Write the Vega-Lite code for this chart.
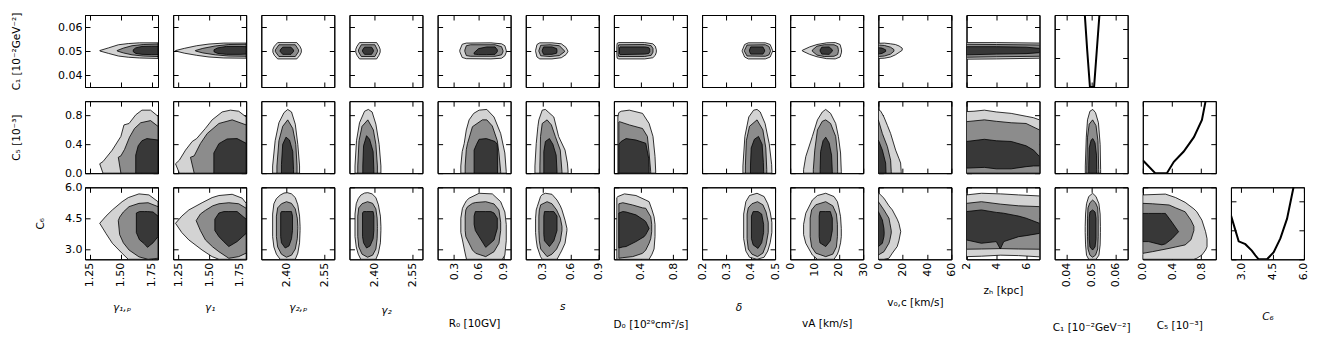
{
"$schema":"https://vega.github.io/schema/vega-lite/v6.json",
"background":"white",
"padding":{"left":10,"top":11,"right":5,"bottom":5},
"datasets":{"c":[
{"p":"a1","l":1,"x":1.33,"lo":0.05,"hi":0.0502},{"p":"a1","l":1,"x":1.4,"lo":0.049,"hi":0.0513},{"p":"a1","l":1,"x":1.48,"lo":0.0479,"hi":0.0526},{"p":"a1","l":1,"x":1.56,"lo":0.0474,"hi":0.0531},{"p":"a1","l":1,"x":1.65,"lo":0.0471,"hi":0.0534},{"p":"a1","l":1,"x":1.8,"lo":0.0469,"hi":0.0534},
{"p":"a1","l":2,"x":1.47,"lo":0.05,"hi":0.0502},{"p":"a1","l":2,"x":1.52,"lo":0.0492,"hi":0.0512},{"p":"a1","l":2,"x":1.59,"lo":0.0484,"hi":0.0522},{"p":"a1","l":2,"x":1.68,"lo":0.0479,"hi":0.0527},{"p":"a1","l":2,"x":1.8,"lo":0.0477,"hi":0.0529},
{"p":"a1","l":3,"x":1.6,"lo":0.0497,"hi":0.0505},{"p":"a1","l":3,"x":1.62,"lo":0.049,"hi":0.0513},{"p":"a1","l":3,"x":1.67,"lo":0.0486,"hi":0.0519},{"p":"a1","l":3,"x":1.75,"lo":0.0485,"hi":0.052},{"p":"a1","l":3,"x":1.8,"lo":0.0485,"hi":0.052},
{"p":"a2","l":1,"x":1.23,"lo":0.05,"hi":0.0502},{"p":"a2","l":1,"x":1.3,"lo":0.0491,"hi":0.0511},{"p":"a2","l":1,"x":1.4,"lo":0.0482,"hi":0.0522},{"p":"a2","l":1,"x":1.5,"lo":0.0475,"hi":0.0529},{"p":"a2","l":1,"x":1.62,"lo":0.0471,"hi":0.0533},{"p":"a2","l":1,"x":1.8,"lo":0.047,"hi":0.0533},
{"p":"a2","l":2,"x":1.39,"lo":0.05,"hi":0.0502},{"p":"a2","l":2,"x":1.45,"lo":0.0492,"hi":0.0511},{"p":"a2","l":2,"x":1.55,"lo":0.0484,"hi":0.0521},{"p":"a2","l":2,"x":1.66,"lo":0.0479,"hi":0.0527},{"p":"a2","l":2,"x":1.8,"lo":0.0478,"hi":0.0528},
{"p":"a2","l":3,"x":1.54,"lo":0.0497,"hi":0.0505},{"p":"a2","l":3,"x":1.57,"lo":0.049,"hi":0.0513},{"p":"a2","l":3,"x":1.64,"lo":0.0486,"hi":0.0519},{"p":"a2","l":3,"x":1.75,"lo":0.0486,"hi":0.0519},{"p":"a2","l":3,"x":1.8,"lo":0.0487,"hi":0.0518},
{"p":"a3","l":1,"x":2.346,"lo":0.0495,"hi":0.0507},{"p":"a3","l":1,"x":2.352,"lo":0.0482,"hi":0.052},{"p":"a3","l":1,"x":2.365,"lo":0.0467,"hi":0.0535},{"p":"a3","l":1,"x":2.441,"lo":0.0467,"hi":0.0535},{"p":"a3","l":1,"x":2.453,"lo":0.0482,"hi":0.052},{"p":"a3","l":1,"x":2.459,"lo":0.0495,"hi":0.0507},
{"p":"a3","l":2,"x":2.356,"lo":0.0497,"hi":0.0505},{"p":"a3","l":2,"x":2.37,"lo":0.0477,"hi":0.0526},{"p":"a3","l":2,"x":2.435,"lo":0.0477,"hi":0.0526},{"p":"a3","l":2,"x":2.448,"lo":0.0497,"hi":0.0505},
{"p":"a3","l":3,"x":2.375,"lo":0.0498,"hi":0.0504},{"p":"a3","l":3,"x":2.385,"lo":0.0486,"hi":0.0516},{"p":"a3","l":3,"x":2.418,"lo":0.0486,"hi":0.0516},{"p":"a3","l":3,"x":2.428,"lo":0.0498,"hi":0.0504},
{"p":"a4","l":1,"x":2.325,"lo":0.0495,"hi":0.0507},{"p":"a4","l":1,"x":2.33,"lo":0.0482,"hi":0.052},{"p":"a4","l":1,"x":2.34,"lo":0.0467,"hi":0.0535},{"p":"a4","l":1,"x":2.408,"lo":0.0467,"hi":0.0535},{"p":"a4","l":1,"x":2.417,"lo":0.0482,"hi":0.052},{"p":"a4","l":1,"x":2.422,"lo":0.0495,"hi":0.0507},
{"p":"a4","l":2,"x":2.336,"lo":0.0497,"hi":0.0505},{"p":"a4","l":2,"x":2.347,"lo":0.0477,"hi":0.0526},{"p":"a4","l":2,"x":2.401,"lo":0.0477,"hi":0.0526},{"p":"a4","l":2,"x":2.411,"lo":0.0497,"hi":0.0505},
{"p":"a4","l":3,"x":2.352,"lo":0.0498,"hi":0.0504},{"p":"a4","l":3,"x":2.36,"lo":0.0486,"hi":0.0516},{"p":"a4","l":3,"x":2.388,"lo":0.0486,"hi":0.0516},{"p":"a4","l":3,"x":2.395,"lo":0.0498,"hi":0.0504},
{"p":"a5","l":1,"x":0.371,"lo":0.0497,"hi":0.0504},{"p":"a5","l":1,"x":0.4,"lo":0.0473,"hi":0.0528},{"p":"a5","l":1,"x":0.45,"lo":0.0468,"hi":0.0533},{"p":"a5","l":1,"x":0.75,"lo":0.0467,"hi":0.0534},{"p":"a5","l":1,"x":0.88,"lo":0.047,"hi":0.053},{"p":"a5","l":1,"x":0.92,"lo":0.048,"hi":0.0522},{"p":"a5","l":1,"x":0.937,"lo":0.0495,"hi":0.0502},
{"p":"a5","l":2,"x":0.432,"lo":0.0498,"hi":0.0504},{"p":"a5","l":2,"x":0.45,"lo":0.0481,"hi":0.0522},{"p":"a5","l":2,"x":0.5,"lo":0.0478,"hi":0.0526},{"p":"a5","l":2,"x":0.8,"lo":0.0478,"hi":0.0526},{"p":"a5","l":2,"x":0.88,"lo":0.0484,"hi":0.0518},{"p":"a5","l":2,"x":0.897,"lo":0.0496,"hi":0.0502},
{"p":"a5","l":3,"x":0.545,"lo":0.0487,"hi":0.0493},{"p":"a5","l":3,"x":0.6,"lo":0.0485,"hi":0.051},{"p":"a5","l":3,"x":0.7,"lo":0.0485,"hi":0.0517},{"p":"a5","l":3,"x":0.8,"lo":0.0486,"hi":0.0517},{"p":"a5","l":3,"x":0.828,"lo":0.0497,"hi":0.0505},
{"p":"a6","l":1,"x":0.225,"lo":0.0499,"hi":0.0502},{"p":"a6","l":1,"x":0.24,"lo":0.0475,"hi":0.0527},{"p":"a6","l":1,"x":0.27,"lo":0.0467,"hi":0.0534},{"p":"a6","l":1,"x":0.4,"lo":0.0467,"hi":0.0534},{"p":"a6","l":1,"x":0.5,"lo":0.0472,"hi":0.053},{"p":"a6","l":1,"x":0.55,"lo":0.0485,"hi":0.0515},{"p":"a6","l":1,"x":0.57,"lo":0.0497,"hi":0.05},
{"p":"a6","l":2,"x":0.26,"lo":0.0499,"hi":0.0502},{"p":"a6","l":2,"x":0.28,"lo":0.048,"hi":0.0524},{"p":"a6","l":2,"x":0.38,"lo":0.0477,"hi":0.0526},{"p":"a6","l":2,"x":0.48,"lo":0.0481,"hi":0.0522},{"p":"a6","l":2,"x":0.535,"lo":0.0497,"hi":0.05},
{"p":"a6","l":3,"x":0.296,"lo":0.0499,"hi":0.0503},{"p":"a6","l":3,"x":0.31,"lo":0.0486,"hi":0.0517},{"p":"a6","l":3,"x":0.4,"lo":0.0486,"hi":0.0517},{"p":"a6","l":3,"x":0.45,"lo":0.0491,"hi":0.051},{"p":"a6","l":3,"x":0.454,"lo":0.0499,"hi":0.0502},
{"p":"a7","l":1,"x":0.106,"lo":0.0485,"hi":0.0518},{"p":"a7","l":1,"x":0.11,"lo":0.047,"hi":0.0532},{"p":"a7","l":1,"x":0.13,"lo":0.0467,"hi":0.0535},{"p":"a7","l":1,"x":0.45,"lo":0.0467,"hi":0.0535},{"p":"a7","l":1,"x":0.55,"lo":0.0472,"hi":0.053},{"p":"a7","l":1,"x":0.58,"lo":0.0482,"hi":0.052},{"p":"a7","l":1,"x":0.593,"lo":0.0495,"hi":0.0505},
{"p":"a7","l":2,"x":0.123,"lo":0.0485,"hi":0.0518},{"p":"a7","l":2,"x":0.13,"lo":0.0477,"hi":0.0526},{"p":"a7","l":2,"x":0.45,"lo":0.0477,"hi":0.0527},{"p":"a7","l":2,"x":0.53,"lo":0.0482,"hi":0.0522},{"p":"a7","l":2,"x":0.552,"lo":0.0495,"hi":0.051},
{"p":"a7","l":3,"x":0.139,"lo":0.0488,"hi":0.0515},{"p":"a7","l":3,"x":0.145,"lo":0.0485,"hi":0.0517},{"p":"a7","l":3,"x":0.45,"lo":0.0487,"hi":0.0517},{"p":"a7","l":3,"x":0.5,"lo":0.049,"hi":0.0514},{"p":"a7","l":3,"x":0.512,"lo":0.0497,"hi":0.0508},
{"p":"a8","l":1,"x":0.365,"lo":0.0499,"hi":0.0502},{"p":"a8","l":1,"x":0.375,"lo":0.0475,"hi":0.0527},{"p":"a8","l":1,"x":0.39,"lo":0.0467,"hi":0.0534},{"p":"a8","l":1,"x":0.46,"lo":0.0467,"hi":0.0534},{"p":"a8","l":1,"x":0.48,"lo":0.0475,"hi":0.0527},{"p":"a8","l":1,"x":0.49,"lo":0.0499,"hi":0.0502},
{"p":"a8","l":2,"x":0.374,"lo":0.0499,"hi":0.0502},{"p":"a8","l":2,"x":0.385,"lo":0.0479,"hi":0.0525},{"p":"a8","l":2,"x":0.46,"lo":0.0478,"hi":0.0526},{"p":"a8","l":2,"x":0.475,"lo":0.0484,"hi":0.0519},{"p":"a8","l":2,"x":0.481,"lo":0.0499,"hi":0.0502},
{"p":"a8","l":3,"x":0.395,"lo":0.0498,"hi":0.0504},{"p":"a8","l":3,"x":0.4,"lo":0.0487,"hi":0.0517},{"p":"a8","l":3,"x":0.45,"lo":0.0487,"hi":0.0517},{"p":"a8","l":3,"x":0.457,"lo":0.0498,"hi":0.0504},
{"p":"a9","l":1,"x":5,"lo":0.05,"hi":0.0503},{"p":"a9","l":1,"x":8,"lo":0.0486,"hi":0.0517},{"p":"a9","l":1,"x":11,"lo":0.0476,"hi":0.0527},{"p":"a9","l":1,"x":15,"lo":0.0468,"hi":0.0534},{"p":"a9","l":1,"x":18.5,"lo":0.0467,"hi":0.0535},{"p":"a9","l":1,"x":20.5,"lo":0.0475,"hi":0.0527},{"p":"a9","l":1,"x":21.1,"lo":0.0495,"hi":0.0505},
{"p":"a9","l":2,"x":9.1,"lo":0.0499,"hi":0.0504},{"p":"a9","l":2,"x":11,"lo":0.0483,"hi":0.052},{"p":"a9","l":2,"x":14,"lo":0.0477,"hi":0.0526},{"p":"a9","l":2,"x":18,"lo":0.0478,"hi":0.0526},{"p":"a9","l":2,"x":19.5,"lo":0.0485,"hi":0.0519},{"p":"a9","l":2,"x":19.8,"lo":0.0498,"hi":0.0506},
{"p":"a9","l":3,"x":12.3,"lo":0.0499,"hi":0.0505},{"p":"a9","l":3,"x":13,"lo":0.0487,"hi":0.0516},{"p":"a9","l":3,"x":16,"lo":0.0486,"hi":0.0517},{"p":"a9","l":3,"x":17.3,"lo":0.0499,"hi":0.0505},
{"p":"a10","l":1,"x":0,"lo":0.0469,"hi":0.0532},{"p":"a10","l":1,"x":5,"lo":0.047,"hi":0.0533},{"p":"a10","l":1,"x":10,"lo":0.0475,"hi":0.053},{"p":"a10","l":1,"x":14,"lo":0.0484,"hi":0.0527},{"p":"a10","l":1,"x":17,"lo":0.0494,"hi":0.0521},{"p":"a10","l":1,"x":19.6,"lo":0.0503,"hi":0.0512},
{"p":"a10","l":2,"x":0,"lo":0.0477,"hi":0.0525},{"p":"a10","l":2,"x":5,"lo":0.0479,"hi":0.0523},{"p":"a10","l":2,"x":10,"lo":0.0487,"hi":0.0516},{"p":"a10","l":2,"x":12.8,"lo":0.0499,"hi":0.0506},
{"p":"a10","l":3,"x":0,"lo":0.0487,"hi":0.0514},{"p":"a10","l":3,"x":3,"lo":0.049,"hi":0.0512},{"p":"a10","l":3,"x":6,"lo":0.0498,"hi":0.0505},
{"p":"a11","l":1,"x":2,"lo":0.0466,"hi":0.0535},{"p":"a11","l":1,"x":4,"lo":0.0467,"hi":0.0535},{"p":"a11","l":1,"x":6.9,"lo":0.047,"hi":0.0533},
{"p":"a11","l":2,"x":2,"lo":0.0474,"hi":0.0528},{"p":"a11","l":2,"x":4,"lo":0.0476,"hi":0.0527},{"p":"a11","l":2,"x":6.9,"lo":0.0478,"hi":0.0525},
{"p":"a11","l":3,"x":2,"lo":0.0484,"hi":0.0518},{"p":"a11","l":3,"x":4,"lo":0.0487,"hi":0.0518},{"p":"a11","l":3,"x":6,"lo":0.0489,"hi":0.0516},{"p":"a11","l":3,"x":6.9,"lo":0.0493,"hi":0.0511},
{"p":"k1","x":0.0474,"y":1},{"p":"k1","x":0.0484,"y":0.5},{"p":"k1","x":0.0495,"y":0},{"p":"k1","x":0.0512,"y":0},{"p":"k1","x":0.0523,"y":0.5},{"p":"k1","x":0.0534,"y":1},
{"p":"b1","l":1,"x":1.329,"lo":0.13,"hi":0.13},{"p":"b1","l":1,"x":1.355,"lo":0,"hi":0.16},{"p":"b1","l":1,"x":1.43,"lo":0,"hi":0.32},{"p":"b1","l":1,"x":1.5,"lo":0,"hi":0.51},{"p":"b1","l":1,"x":1.525,"lo":0,"hi":0.67},{"p":"b1","l":1,"x":1.566,"lo":0,"hi":0.69},{"p":"b1","l":1,"x":1.62,"lo":0,"hi":0.81},{"p":"b1","l":1,"x":1.67,"lo":0,"hi":0.875},{"p":"b1","l":1,"x":1.74,"lo":0,"hi":0.875},{"p":"b1","l":1,"x":1.8,"lo":0,"hi":0.79},
{"p":"b1","l":2,"x":1.479,"lo":0.22,"hi":0.22},{"p":"b1","l":2,"x":1.5,"lo":0,"hi":0.24},{"p":"b1","l":2,"x":1.53,"lo":0,"hi":0.33},{"p":"b1","l":2,"x":1.57,"lo":0,"hi":0.5},{"p":"b1","l":2,"x":1.61,"lo":0,"hi":0.62},{"p":"b1","l":2,"x":1.66,"lo":0,"hi":0.7},{"p":"b1","l":2,"x":1.74,"lo":0,"hi":0.73},{"p":"b1","l":2,"x":1.8,"lo":0,"hi":0.65},
{"p":"b1","l":3,"x":1.62,"lo":0,"hi":0.25},{"p":"b1","l":3,"x":1.64,"lo":0,"hi":0.38},{"p":"b1","l":3,"x":1.67,"lo":0,"hi":0.45},{"p":"b1","l":3,"x":1.71,"lo":0,"hi":0.48},{"p":"b1","l":3,"x":1.8,"lo":0,"hi":0.46},
{"p":"b2","l":1,"x":1.229,"lo":0.13,"hi":0.13},{"p":"b2","l":1,"x":1.26,"lo":0,"hi":0.18},{"p":"b2","l":1,"x":1.31,"lo":0,"hi":0.32},{"p":"b2","l":1,"x":1.364,"lo":0,"hi":0.44},{"p":"b2","l":1,"x":1.4,"lo":0,"hi":0.48},{"p":"b2","l":1,"x":1.47,"lo":0,"hi":0.62},{"p":"b2","l":1,"x":1.525,"lo":0,"hi":0.74},{"p":"b2","l":1,"x":1.606,"lo":0,"hi":0.85},{"p":"b2","l":1,"x":1.673,"lo":0,"hi":0.875},{"p":"b2","l":1,"x":1.74,"lo":0,"hi":0.86},{"p":"b2","l":1,"x":1.8,"lo":0,"hi":0.78},
{"p":"b2","l":2,"x":1.35,"lo":0.22,"hi":0.22},{"p":"b2","l":2,"x":1.38,"lo":0,"hi":0.24},{"p":"b2","l":2,"x":1.43,"lo":0,"hi":0.41},{"p":"b2","l":2,"x":1.485,"lo":0,"hi":0.55},{"p":"b2","l":2,"x":1.58,"lo":0,"hi":0.69},{"p":"b2","l":2,"x":1.687,"lo":0,"hi":0.74},{"p":"b2","l":2,"x":1.8,"lo":0,"hi":0.67},
{"p":"b2","l":3,"x":1.539,"lo":0,"hi":0.28},{"p":"b2","l":3,"x":1.58,"lo":0,"hi":0.41},{"p":"b2","l":3,"x":1.646,"lo":0,"hi":0.475},{"p":"b2","l":3,"x":1.727,"lo":0,"hi":0.48},{"p":"b2","l":3,"x":1.8,"lo":0,"hi":0.415},
{"p":"b3","l":1,"x":2.345,"lo":0,"hi":0.1},{"p":"b3","l":1,"x":2.355,"lo":0,"hi":0.45},{"p":"b3","l":1,"x":2.37,"lo":0,"hi":0.7},{"p":"b3","l":1,"x":2.39,"lo":0,"hi":0.84},{"p":"b3","l":1,"x":2.405,"lo":0,"hi":0.885},{"p":"b3","l":1,"x":2.42,"lo":0,"hi":0.85},{"p":"b3","l":1,"x":2.435,"lo":0,"hi":0.68},{"p":"b3","l":1,"x":2.445,"lo":0,"hi":0.4},{"p":"b3","l":1,"x":2.452,"lo":0,"hi":0.1},
{"p":"b3","l":2,"x":2.362,"lo":0,"hi":0.1},{"p":"b3","l":2,"x":2.37,"lo":0,"hi":0.45},{"p":"b3","l":2,"x":2.385,"lo":0,"hi":0.65},{"p":"b3","l":2,"x":2.405,"lo":0,"hi":0.74},{"p":"b3","l":2,"x":2.425,"lo":0,"hi":0.62},{"p":"b3","l":2,"x":2.437,"lo":0,"hi":0.4},{"p":"b3","l":2,"x":2.442,"lo":0,"hi":0.1},
{"p":"b3","l":3,"x":2.38,"lo":0,"hi":0.12},{"p":"b3","l":3,"x":2.385,"lo":0,"hi":0.4},{"p":"b3","l":3,"x":2.398,"lo":0,"hi":0.5},{"p":"b3","l":3,"x":2.412,"lo":0,"hi":0.46},{"p":"b3","l":3,"x":2.425,"lo":0,"hi":0.3},{"p":"b3","l":3,"x":2.428,"lo":0,"hi":0.05},
{"p":"b4","l":1,"x":2.322,"lo":0,"hi":0.1},{"p":"b4","l":1,"x":2.328,"lo":0,"hi":0.45},{"p":"b4","l":1,"x":2.34,"lo":0,"hi":0.7},{"p":"b4","l":1,"x":2.36,"lo":0,"hi":0.86},{"p":"b4","l":1,"x":2.375,"lo":0,"hi":0.885},{"p":"b4","l":1,"x":2.39,"lo":0,"hi":0.85},{"p":"b4","l":1,"x":2.405,"lo":0,"hi":0.68},{"p":"b4","l":1,"x":2.418,"lo":0,"hi":0.4},{"p":"b4","l":1,"x":2.425,"lo":0,"hi":0.1},
{"p":"b4","l":2,"x":2.333,"lo":0,"hi":0.1},{"p":"b4","l":2,"x":2.338,"lo":0,"hi":0.45},{"p":"b4","l":2,"x":2.35,"lo":0,"hi":0.65},{"p":"b4","l":2,"x":2.373,"lo":0,"hi":0.74},{"p":"b4","l":2,"x":2.395,"lo":0,"hi":0.6},{"p":"b4","l":2,"x":2.405,"lo":0,"hi":0.4},{"p":"b4","l":2,"x":2.411,"lo":0,"hi":0.1},
{"p":"b4","l":3,"x":2.353,"lo":0,"hi":0.1},{"p":"b4","l":3,"x":2.356,"lo":0,"hi":0.38},{"p":"b4","l":3,"x":2.368,"lo":0,"hi":0.52},{"p":"b4","l":3,"x":2.38,"lo":0,"hi":0.47},{"p":"b4","l":3,"x":2.394,"lo":0,"hi":0.3},{"p":"b4","l":3,"x":2.397,"lo":0,"hi":0.05},
{"p":"b5","l":1,"x":0.383,"lo":0,"hi":0.1},{"p":"b5","l":1,"x":0.4,"lo":0,"hi":0.3},{"p":"b5","l":1,"x":0.424,"lo":0,"hi":0.41},{"p":"b5","l":1,"x":0.45,"lo":0,"hi":0.6},{"p":"b5","l":1,"x":0.484,"lo":0,"hi":0.74},{"p":"b5","l":1,"x":0.54,"lo":0,"hi":0.83},{"p":"b5","l":1,"x":0.606,"lo":0,"hi":0.875},{"p":"b5","l":1,"x":0.7,"lo":0,"hi":0.885},{"p":"b5","l":1,"x":0.788,"lo":0,"hi":0.78},{"p":"b5","l":1,"x":0.869,"lo":0,"hi":0.55},{"p":"b5","l":1,"x":0.92,"lo":0,"hi":0.28},{"p":"b5","l":1,"x":0.937,"lo":0,"hi":0.02},
{"p":"b5","l":2,"x":0.436,"lo":0,"hi":0.1},{"p":"b5","l":2,"x":0.45,"lo":0,"hi":0.33},{"p":"b5","l":2,"x":0.464,"lo":0,"hi":0.41},{"p":"b5","l":2,"x":0.525,"lo":0,"hi":0.645},{"p":"b5","l":2,"x":0.646,"lo":0,"hi":0.74},{"p":"b5","l":2,"x":0.7,"lo":0,"hi":0.74},{"p":"b5","l":2,"x":0.767,"lo":0,"hi":0.655},{"p":"b5","l":2,"x":0.828,"lo":0,"hi":0.45},{"p":"b5","l":2,"x":0.848,"lo":0,"hi":0.28},{"p":"b5","l":2,"x":0.869,"lo":0,"hi":0.02},
{"p":"b5","l":3,"x":0.545,"lo":0,"hi":0.32},{"p":"b5","l":3,"x":0.575,"lo":0,"hi":0.4},{"p":"b5","l":3,"x":0.606,"lo":0,"hi":0.47},{"p":"b5","l":3,"x":0.695,"lo":0,"hi":0.48},{"p":"b5","l":3,"x":0.8,"lo":0,"hi":0.44},{"p":"b5","l":3,"x":0.828,"lo":0,"hi":0.4},{"p":"b5","l":3,"x":0.83,"lo":0,"hi":0.1},
{"p":"b6","l":1,"x":0.218,"lo":0,"hi":0.1},{"p":"b6","l":1,"x":0.232,"lo":0,"hi":0.41},{"p":"b6","l":1,"x":0.25,"lo":0,"hi":0.65},{"p":"b6","l":1,"x":0.26,"lo":0,"hi":0.74},{"p":"b6","l":1,"x":0.296,"lo":0,"hi":0.875},{"p":"b6","l":1,"x":0.33,"lo":0,"hi":0.885},{"p":"b6","l":1,"x":0.36,"lo":0,"hi":0.85},{"p":"b6","l":1,"x":0.42,"lo":0,"hi":0.78},{"p":"b6","l":1,"x":0.471,"lo":0,"hi":0.51},{"p":"b6","l":1,"x":0.54,"lo":0,"hi":0.32},{"p":"b6","l":1,"x":0.565,"lo":0,"hi":0.14},{"p":"b6","l":1,"x":0.572,"lo":0,"hi":0.03},
{"p":"b6","l":2,"x":0.271,"lo":0,"hi":0.1},{"p":"b6","l":2,"x":0.278,"lo":0,"hi":0.51},{"p":"b6","l":2,"x":0.296,"lo":0,"hi":0.69},{"p":"b6","l":2,"x":0.348,"lo":0,"hi":0.74},{"p":"b6","l":2,"x":0.394,"lo":0,"hi":0.67},{"p":"b6","l":2,"x":0.436,"lo":0,"hi":0.51},{"p":"b6","l":2,"x":0.489,"lo":0,"hi":0.32},{"p":"b6","l":2,"x":0.507,"lo":0,"hi":0.02},
{"p":"b6","l":3,"x":0.313,"lo":0,"hi":0.3},{"p":"b6","l":3,"x":0.33,"lo":0,"hi":0.44},{"p":"b6","l":3,"x":0.373,"lo":0,"hi":0.48},{"p":"b6","l":3,"x":0.41,"lo":0,"hi":0.4},{"p":"b6","l":3,"x":0.445,"lo":0,"hi":0.25},{"p":"b6","l":3,"x":0.454,"lo":0,"hi":0.03},
{"p":"b7","l":1,"x":0.119,"lo":0,"hi":0.78},{"p":"b7","l":1,"x":0.13,"lo":0,"hi":0.84},{"p":"b7","l":1,"x":0.16,"lo":0,"hi":0.86},{"p":"b7","l":1,"x":0.26,"lo":0,"hi":0.875},{"p":"b7","l":1,"x":0.423,"lo":0,"hi":0.83},{"p":"b7","l":1,"x":0.504,"lo":0,"hi":0.69},{"p":"b7","l":1,"x":0.552,"lo":0,"hi":0.51},{"p":"b7","l":1,"x":0.577,"lo":0,"hi":0.23},{"p":"b7","l":1,"x":0.585,"lo":0,"hi":0.03},
{"p":"b7","l":2,"x":0.131,"lo":0,"hi":0.71},{"p":"b7","l":2,"x":0.139,"lo":0,"hi":0.715},{"p":"b7","l":2,"x":0.26,"lo":0,"hi":0.67},{"p":"b7","l":2,"x":0.423,"lo":0,"hi":0.62},{"p":"b7","l":2,"x":0.483,"lo":0,"hi":0.51},{"p":"b7","l":2,"x":0.504,"lo":0,"hi":0.28},{"p":"b7","l":2,"x":0.524,"lo":0,"hi":0.02},
{"p":"b7","l":3,"x":0.131,"lo":0,"hi":0.4},{"p":"b7","l":3,"x":0.159,"lo":0,"hi":0.44},{"p":"b7","l":3,"x":0.22,"lo":0,"hi":0.48},{"p":"b7","l":3,"x":0.342,"lo":0,"hi":0.46},{"p":"b7","l":3,"x":0.463,"lo":0,"hi":0.415},{"p":"b7","l":3,"x":0.5,"lo":0,"hi":0.2},{"p":"b7","l":3,"x":0.504,"lo":0,"hi":0.08},
{"p":"b8","l":1,"x":0.368,"lo":0,"hi":0.1},{"p":"b8","l":1,"x":0.376,"lo":0,"hi":0.51},{"p":"b8","l":1,"x":0.392,"lo":0,"hi":0.78},{"p":"b8","l":1,"x":0.412,"lo":0,"hi":0.875},{"p":"b8","l":1,"x":0.426,"lo":0,"hi":0.885},{"p":"b8","l":1,"x":0.439,"lo":0,"hi":0.85},{"p":"b8","l":1,"x":0.459,"lo":0,"hi":0.69},{"p":"b8","l":1,"x":0.476,"lo":0,"hi":0.41},{"p":"b8","l":1,"x":0.486,"lo":0,"hi":0.12},{"p":"b8","l":1,"x":0.487,"lo":0,"hi":0.02},
{"p":"b8","l":2,"x":0.378,"lo":0,"hi":0.1},{"p":"b8","l":2,"x":0.382,"lo":0,"hi":0.45},{"p":"b8","l":2,"x":0.395,"lo":0,"hi":0.65},{"p":"b8","l":2,"x":0.426,"lo":0,"hi":0.74},{"p":"b8","l":2,"x":0.45,"lo":0,"hi":0.6},{"p":"b8","l":2,"x":0.462,"lo":0,"hi":0.35},{"p":"b8","l":2,"x":0.466,"lo":0,"hi":0.05},
{"p":"b8","l":3,"x":0.399,"lo":0,"hi":0.1},{"p":"b8","l":3,"x":0.402,"lo":0,"hi":0.35},{"p":"b8","l":3,"x":0.415,"lo":0,"hi":0.47},{"p":"b8","l":3,"x":0.432,"lo":0,"hi":0.51},{"p":"b8","l":3,"x":0.447,"lo":0,"hi":0.4},{"p":"b8","l":3,"x":0.452,"lo":0,"hi":0.15},{"p":"b8","l":3,"x":0.453,"lo":0,"hi":0.02},
{"p":"b9","l":1,"x":5.5,"lo":0,"hi":0.05},{"p":"b9","l":1,"x":6.4,"lo":0,"hi":0.23},{"p":"b9","l":1,"x":9.1,"lo":0,"hi":0.51},{"p":"b9","l":1,"x":11.2,"lo":0,"hi":0.74},{"p":"b9","l":1,"x":13.2,"lo":0,"hi":0.85},{"p":"b9","l":1,"x":14.6,"lo":0,"hi":0.885},{"p":"b9","l":1,"x":16.6,"lo":0,"hi":0.83},{"p":"b9","l":1,"x":18.7,"lo":0,"hi":0.69},{"p":"b9","l":1,"x":19.8,"lo":0,"hi":0.51},{"p":"b9","l":1,"x":20.7,"lo":0,"hi":0.28},{"p":"b9","l":1,"x":21,"lo":0,"hi":0.02},
{"p":"b9","l":2,"x":9.5,"lo":0,"hi":0.05},{"p":"b9","l":2,"x":10.1,"lo":0,"hi":0.32},{"p":"b9","l":2,"x":11.2,"lo":0,"hi":0.6},{"p":"b9","l":2,"x":13.2,"lo":0,"hi":0.72},{"p":"b9","l":2,"x":14.6,"lo":0,"hi":0.74},{"p":"b9","l":2,"x":16.6,"lo":0,"hi":0.69},{"p":"b9","l":2,"x":18.7,"lo":0,"hi":0.51},{"p":"b9","l":2,"x":19.4,"lo":0,"hi":0.28},{"p":"b9","l":2,"x":19.5,"lo":0,"hi":0.02},
{"p":"b9","l":3,"x":12.3,"lo":0,"hi":0.05},{"p":"b9","l":3,"x":12.5,"lo":0,"hi":0.3},{"p":"b9","l":3,"x":13.5,"lo":0,"hi":0.45},{"p":"b9","l":3,"x":14.6,"lo":0,"hi":0.5},{"p":"b9","l":3,"x":16,"lo":0,"hi":0.42},{"p":"b9","l":3,"x":17,"lo":0,"hi":0.25},{"p":"b9","l":3,"x":17.3,"lo":0,"hi":0.02},
{"p":"b10","l":1,"x":0,"lo":0,"hi":0.885},{"p":"b10","l":1,"x":2,"lo":0,"hi":0.86},{"p":"b10","l":1,"x":4.6,"lo":0,"hi":0.78},{"p":"b10","l":1,"x":7.5,"lo":0,"hi":0.66},{"p":"b10","l":1,"x":10.1,"lo":0,"hi":0.55},{"p":"b10","l":1,"x":14.2,"lo":0,"hi":0.32},{"p":"b10","l":1,"x":17,"lo":0,"hi":0.2},{"p":"b10","l":1,"x":18.3,"lo":0,"hi":0.14},{"p":"b10","l":1,"x":18.8,"lo":0,"hi":0.02},
{"p":"b10","l":2,"x":0,"lo":0,"hi":0.74},{"p":"b10","l":2,"x":3.3,"lo":0,"hi":0.55},{"p":"b10","l":2,"x":7.4,"lo":0,"hi":0.37},{"p":"b10","l":2,"x":10.1,"lo":0,"hi":0.18},{"p":"b10","l":2,"x":10.6,"lo":0,"hi":0.02},
{"p":"b10","l":3,"x":0,"lo":0,"hi":0.46},{"p":"b10","l":3,"x":3.3,"lo":0,"hi":0.32},{"p":"b10","l":3,"x":6,"lo":0,"hi":0.14},{"p":"b10","l":3,"x":6.3,"lo":0,"hi":0.02},
{"p":"b11","l":1,"x":2,"lo":0,"hi":0.855},{"p":"b11","l":1,"x":2.5,"lo":0,"hi":0.86},{"p":"b11","l":1,"x":3.2,"lo":0,"hi":0.875},{"p":"b11","l":1,"x":4,"lo":0,"hi":0.85},{"p":"b11","l":1,"x":5,"lo":0,"hi":0.83},{"p":"b11","l":1,"x":6,"lo":0,"hi":0.79},{"p":"b11","l":1,"x":6.5,"lo":0,"hi":0.77},{"p":"b11","l":1,"x":6.9,"lo":0,"hi":0.74},
{"p":"b11","l":2,"x":2,"lo":0,"hi":0.715},{"p":"b11","l":2,"x":3.2,"lo":0,"hi":0.74},{"p":"b11","l":2,"x":4,"lo":0,"hi":0.72},{"p":"b11","l":2,"x":5,"lo":0,"hi":0.7},{"p":"b11","l":2,"x":6,"lo":0,"hi":0.69},{"p":"b11","l":2,"x":6.9,"lo":0,"hi":0.6},
{"p":"b11","l":3,"x":2,"lo":0.07,"hi":0.44},{"p":"b11","l":3,"x":3.2,"lo":0.08,"hi":0.47},{"p":"b11","l":3,"x":4,"lo":0.06,"hi":0.45},{"p":"b11","l":3,"x":5,"lo":0.06,"hi":0.44},{"p":"b11","l":3,"x":6,"lo":0.09,"hi":0.38},{"p":"b11","l":3,"x":6.5,"lo":0.1,"hi":0.32},{"p":"b11","l":3,"x":6.9,"lo":0.1,"hi":0.23},
{"p":"b12","l":1,"x":0.0476,"lo":0,"hi":0.1},{"p":"b12","l":1,"x":0.048,"lo":0,"hi":0.5},{"p":"b12","l":1,"x":0.0485,"lo":0,"hi":0.74},{"p":"b12","l":1,"x":0.0495,"lo":0,"hi":0.86},{"p":"b12","l":1,"x":0.0507,"lo":0,"hi":0.885},{"p":"b12","l":1,"x":0.0518,"lo":0,"hi":0.84},{"p":"b12","l":1,"x":0.053,"lo":0,"hi":0.7},{"p":"b12","l":1,"x":0.0537,"lo":0,"hi":0.4},{"p":"b12","l":1,"x":0.0539,"lo":0,"hi":0.05},
{"p":"b12","l":2,"x":0.0482,"lo":0,"hi":0.1},{"p":"b12","l":2,"x":0.0485,"lo":0,"hi":0.5},{"p":"b12","l":2,"x":0.0492,"lo":0,"hi":0.68},{"p":"b12","l":2,"x":0.0506,"lo":0,"hi":0.74},{"p":"b12","l":2,"x":0.052,"lo":0,"hi":0.66},{"p":"b12","l":2,"x":0.0528,"lo":0,"hi":0.45},{"p":"b12","l":2,"x":0.0531,"lo":0,"hi":0.05},
{"p":"b12","l":3,"x":0.049,"lo":0,"hi":0.1},{"p":"b12","l":3,"x":0.0492,"lo":0,"hi":0.35},{"p":"b12","l":3,"x":0.05,"lo":0,"hi":0.46},{"p":"b12","l":3,"x":0.0507,"lo":0,"hi":0.48},{"p":"b12","l":3,"x":0.0516,"lo":0,"hi":0.42},{"p":"b12","l":3,"x":0.0522,"lo":0,"hi":0.25},{"p":"b12","l":3,"x":0.0523,"lo":0,"hi":0.05},
{"p":"k2","x":0,"y":0.18},{"p":"k2","x":0.17,"y":0},{"p":"k2","x":0.33,"y":0},{"p":"k2","x":0.425,"y":0.157},{"p":"k2","x":0.56,"y":0.3},{"p":"k2","x":0.7,"y":0.5},{"p":"k2","x":0.81,"y":0.74},{"p":"k2","x":0.86,"y":1},
{"p":"c1","l":1,"x":1.329,"lo":4.25,"hi":4.25},{"p":"c1","l":1,"x":1.38,"lo":3.75,"hi":4.6},{"p":"c1","l":1,"x":1.431,"lo":3.28,"hi":4.9},{"p":"c1","l":1,"x":1.51,"lo":2.79,"hi":5.3},{"p":"c1","l":1,"x":1.56,"lo":2.5,"hi":5.5},{"p":"c1","l":1,"x":1.646,"lo":2.5,"hi":5.68},{"p":"c1","l":1,"x":1.727,"lo":2.5,"hi":5.63},{"p":"c1","l":1,"x":1.8,"lo":2.5,"hi":5.3},
{"p":"c1","l":2,"x":1.479,"lo":4.38,"hi":4.38},{"p":"c1","l":2,"x":1.49,"lo":3.7,"hi":4.55},{"p":"c1","l":2,"x":1.52,"lo":3.3,"hi":4.8},{"p":"c1","l":2,"x":1.566,"lo":2.95,"hi":5.06},{"p":"c1","l":2,"x":1.646,"lo":2.62,"hi":5.22},{"p":"c1","l":2,"x":1.72,"lo":2.5,"hi":5.25},{"p":"c1","l":2,"x":1.8,"lo":2.55,"hi":5.06},
{"p":"c1","l":3,"x":1.625,"lo":3.8,"hi":4.75},{"p":"c1","l":3,"x":1.65,"lo":3.45,"hi":4.82},{"p":"c1","l":3,"x":1.69,"lo":3.25,"hi":4.82},{"p":"c1","l":3,"x":1.715,"lo":3.08,"hi":4.82},{"p":"c1","l":3,"x":1.76,"lo":3.3,"hi":4.8},{"p":"c1","l":3,"x":1.8,"lo":3.6,"hi":4.6},
{"p":"c2","l":1,"x":1.229,"lo":4.25,"hi":4.25},{"p":"c2","l":1,"x":1.28,"lo":3.8,"hi":4.6},{"p":"c2","l":1,"x":1.337,"lo":3.44,"hi":4.9},{"p":"c2","l":1,"x":1.444,"lo":2.95,"hi":5.25},{"p":"c2","l":1,"x":1.525,"lo":2.63,"hi":5.5},{"p":"c2","l":1,"x":1.58,"lo":2.5,"hi":5.6},{"p":"c2","l":1,"x":1.687,"lo":2.5,"hi":5.66},{"p":"c2","l":1,"x":1.768,"lo":2.5,"hi":5.47},{"p":"c2","l":1,"x":1.8,"lo":2.5,"hi":5.22},
{"p":"c2","l":2,"x":1.396,"lo":4.38,"hi":4.38},{"p":"c2","l":2,"x":1.43,"lo":3.9,"hi":4.7},{"p":"c2","l":2,"x":1.471,"lo":3.44,"hi":4.88},{"p":"c2","l":2,"x":1.53,"lo":3.1,"hi":5.1},{"p":"c2","l":2,"x":1.58,"lo":2.87,"hi":5.2},{"p":"c2","l":2,"x":1.66,"lo":2.55,"hi":5.25},{"p":"c2","l":2,"x":1.74,"lo":2.63,"hi":5.2},{"p":"c2","l":2,"x":1.8,"lo":2.8,"hi":4.98},
{"p":"c2","l":3,"x":1.547,"lo":3.9,"hi":4.45},{"p":"c2","l":3,"x":1.58,"lo":3.6,"hi":4.75},{"p":"c2","l":3,"x":1.62,"lo":3.35,"hi":4.82},{"p":"c2","l":3,"x":1.66,"lo":3.12,"hi":4.82},{"p":"c2","l":3,"x":1.727,"lo":3.36,"hi":4.82},{"p":"c2","l":3,"x":1.8,"lo":3.76,"hi":4.45},
{"p":"c3","l":1,"x":2.345,"lo":3.6,"hi":4.7},{"p":"c3","l":1,"x":2.35,"lo":3.1,"hi":5.2},{"p":"c3","l":1,"x":2.36,"lo":2.75,"hi":5.45},{"p":"c3","l":1,"x":2.375,"lo":2.5,"hi":5.62},{"p":"c3","l":1,"x":2.39,"lo":2.5,"hi":5.72},{"p":"c3","l":1,"x":2.403,"lo":2.5,"hi":5.74},{"p":"c3","l":1,"x":2.42,"lo":2.5,"hi":5.68},{"p":"c3","l":1,"x":2.435,"lo":2.5,"hi":5.5},{"p":"c3","l":1,"x":2.445,"lo":2.8,"hi":5.15},{"p":"c3","l":1,"x":2.452,"lo":3.3,"hi":4.6},{"p":"c3","l":1,"x":2.454,"lo":3.9,"hi":4.1},
{"p":"c3","l":2,"x":2.36,"lo":3.6,"hi":4.6},{"p":"c3","l":2,"x":2.365,"lo":3.1,"hi":5},{"p":"c3","l":2,"x":2.38,"lo":2.75,"hi":5.2},{"p":"c3","l":2,"x":2.4,"lo":2.6,"hi":5.3},{"p":"c3","l":2,"x":2.42,"lo":2.7,"hi":5.22},{"p":"c3","l":2,"x":2.435,"lo":3,"hi":4.95},{"p":"c3","l":2,"x":2.443,"lo":3.5,"hi":4.5},{"p":"c3","l":2,"x":2.445,"lo":4,"hi":4.1},
{"p":"c3","l":3,"x":2.377,"lo":3.6,"hi":4.75},{"p":"c3","l":3,"x":2.38,"lo":3.3,"hi":4.82},{"p":"c3","l":3,"x":2.395,"lo":3.05,"hi":4.82},{"p":"c3","l":3,"x":2.41,"lo":3.15,"hi":4.82},{"p":"c3","l":3,"x":2.42,"lo":3.5,"hi":4.82},{"p":"c3","l":3,"x":2.424,"lo":3.9,"hi":4.6},
{"p":"c4","l":1,"x":2.322,"lo":3.6,"hi":4.7},{"p":"c4","l":1,"x":2.327,"lo":3.1,"hi":5.2},{"p":"c4","l":1,"x":2.335,"lo":2.75,"hi":5.45},{"p":"c4","l":1,"x":2.345,"lo":2.5,"hi":5.62},{"p":"c4","l":1,"x":2.36,"lo":2.5,"hi":5.72},{"p":"c4","l":1,"x":2.373,"lo":2.5,"hi":5.74},{"p":"c4","l":1,"x":2.39,"lo":2.5,"hi":5.68},{"p":"c4","l":1,"x":2.405,"lo":2.5,"hi":5.5},{"p":"c4","l":1,"x":2.415,"lo":2.8,"hi":5.15},{"p":"c4","l":1,"x":2.423,"lo":3.3,"hi":4.6},{"p":"c4","l":1,"x":2.425,"lo":3.9,"hi":4.1},
{"p":"c4","l":2,"x":2.333,"lo":3.6,"hi":4.6},{"p":"c4","l":2,"x":2.337,"lo":3.1,"hi":5},{"p":"c4","l":2,"x":2.35,"lo":2.75,"hi":5.2},{"p":"c4","l":2,"x":2.372,"lo":2.6,"hi":5.3},{"p":"c4","l":2,"x":2.392,"lo":2.7,"hi":5.22},{"p":"c4","l":2,"x":2.405,"lo":3,"hi":4.95},{"p":"c4","l":2,"x":2.41,"lo":3.5,"hi":4.5},{"p":"c4","l":2,"x":2.411,"lo":4,"hi":4.1},
{"p":"c4","l":3,"x":2.352,"lo":3.6,"hi":4.75},{"p":"c4","l":3,"x":2.356,"lo":3.3,"hi":4.82},{"p":"c4","l":3,"x":2.368,"lo":3.05,"hi":4.82},{"p":"c4","l":3,"x":2.382,"lo":3.15,"hi":4.82},{"p":"c4","l":3,"x":2.394,"lo":3.5,"hi":4.82},{"p":"c4","l":3,"x":2.397,"lo":3.9,"hi":4.6},
{"p":"c5","l":1,"x":0.383,"lo":3.8,"hi":4.5},{"p":"c5","l":1,"x":0.403,"lo":3.44,"hi":4.98},{"p":"c5","l":1,"x":0.43,"lo":2.9,"hi":5.2},{"p":"c5","l":1,"x":0.452,"lo":2.5,"hi":5.35},{"p":"c5","l":1,"x":0.484,"lo":2.5,"hi":5.47},{"p":"c5","l":1,"x":0.606,"lo":2.5,"hi":5.71},{"p":"c5","l":1,"x":0.767,"lo":2.5,"hi":5.68},{"p":"c5","l":1,"x":0.869,"lo":2.5,"hi":5.3},{"p":"c5","l":1,"x":0.889,"lo":2.5,"hi":5.1},{"p":"c5","l":1,"x":0.92,"lo":2.7,"hi":4.8},{"p":"c5","l":1,"x":0.937,"lo":3.4,"hi":4.2},
{"p":"c5","l":2,"x":0.436,"lo":3.9,"hi":4.6},{"p":"c5","l":2,"x":0.444,"lo":3.6,"hi":4.9},{"p":"c5","l":2,"x":0.464,"lo":3.44,"hi":5.05},{"p":"c5","l":2,"x":0.525,"lo":2.95,"hi":5.22},{"p":"c5","l":2,"x":0.565,"lo":2.79,"hi":5.26},{"p":"c5","l":2,"x":0.687,"lo":2.63,"hi":5.3},{"p":"c5","l":2,"x":0.788,"lo":2.87,"hi":5.19},{"p":"c5","l":2,"x":0.848,"lo":3.28,"hi":4.9},{"p":"c5","l":2,"x":0.869,"lo":3.9,"hi":4.3},
{"p":"c5","l":3,"x":0.545,"lo":4.2,"hi":4.6},{"p":"c5","l":3,"x":0.56,"lo":3.9,"hi":4.82},{"p":"c5","l":3,"x":0.606,"lo":3.6,"hi":4.82},{"p":"c5","l":3,"x":0.687,"lo":3.08,"hi":4.82},{"p":"c5","l":3,"x":0.75,"lo":3.3,"hi":4.82},{"p":"c5","l":3,"x":0.788,"lo":3.44,"hi":4.75},{"p":"c5","l":3,"x":0.828,"lo":4,"hi":4.5},
{"p":"c6","l":1,"x":0.225,"lo":3.8,"hi":4.5},{"p":"c6","l":1,"x":0.232,"lo":3.44,"hi":4.9},{"p":"c6","l":1,"x":0.243,"lo":3.1,"hi":5.06},{"p":"c6","l":1,"x":0.278,"lo":2.63,"hi":5.55},{"p":"c6","l":1,"x":0.296,"lo":2.5,"hi":5.65},{"p":"c6","l":1,"x":0.33,"lo":2.5,"hi":5.71},{"p":"c6","l":1,"x":0.4,"lo":2.5,"hi":5.66},{"p":"c6","l":1,"x":0.454,"lo":2.5,"hi":5.38},{"p":"c6","l":1,"x":0.489,"lo":2.79,"hi":5.1},{"p":"c6","l":1,"x":0.507,"lo":2.95,"hi":4.9},{"p":"c6","l":1,"x":0.54,"lo":3.28,"hi":4.4},{"p":"c6","l":1,"x":0.56,"lo":3.9,"hi":4},
{"p":"c6","l":2,"x":0.26,"lo":3.9,"hi":4.6},{"p":"c6","l":2,"x":0.265,"lo":3.4,"hi":4.9},{"p":"c6","l":2,"x":0.28,"lo":3,"hi":5.15},{"p":"c6","l":2,"x":0.348,"lo":2.63,"hi":5.3},{"p":"c6","l":2,"x":0.4,"lo":2.75,"hi":5.2},{"p":"c6","l":2,"x":0.45,"lo":3,"hi":4.9},{"p":"c6","l":2,"x":0.49,"lo":3.4,"hi":4.5},{"p":"c6","l":2,"x":0.507,"lo":3.9,"hi":4.1},
{"p":"c6","l":3,"x":0.313,"lo":3.7,"hi":4.6},{"p":"c6","l":3,"x":0.32,"lo":3.4,"hi":4.82},{"p":"c6","l":3,"x":0.373,"lo":3.12,"hi":4.82},{"p":"c6","l":3,"x":0.42,"lo":3.4,"hi":4.82},{"p":"c6","l":3,"x":0.454,"lo":3.9,"hi":4.6},
{"p":"c7","l":1,"x":0.106,"lo":2.5,"hi":5.5},{"p":"c7","l":1,"x":0.119,"lo":2.5,"hi":5.55},{"p":"c7","l":1,"x":0.2,"lo":2.5,"hi":5.68},{"p":"c7","l":1,"x":0.342,"lo":2.5,"hi":5.6},{"p":"c7","l":1,"x":0.463,"lo":2.5,"hi":5.38},{"p":"c7","l":1,"x":0.504,"lo":2.5,"hi":5.3},{"p":"c7","l":1,"x":0.54,"lo":2.75,"hi":4.9},{"p":"c7","l":1,"x":0.565,"lo":3,"hi":4.57},{"p":"c7","l":1,"x":0.577,"lo":3.6,"hi":4.2},
{"p":"c7","l":2,"x":0.131,"lo":2.55,"hi":5.2},{"p":"c7","l":2,"x":0.18,"lo":2.58,"hi":5.25},{"p":"c7","l":2,"x":0.301,"lo":2.63,"hi":5.14},{"p":"c7","l":2,"x":0.423,"lo":2.79,"hi":5},{"p":"c7","l":2,"x":0.463,"lo":2.95,"hi":4.98},{"p":"c7","l":2,"x":0.504,"lo":3.28,"hi":4.7},{"p":"c7","l":2,"x":0.524,"lo":3.5,"hi":4.57},{"p":"c7","l":2,"x":0.536,"lo":3.84,"hi":4.2},
{"p":"c7","l":3,"x":0.131,"lo":3.05,"hi":4.75},{"p":"c7","l":3,"x":0.18,"lo":3.1,"hi":4.82},{"p":"c7","l":3,"x":0.22,"lo":3.12,"hi":4.8},{"p":"c7","l":3,"x":0.342,"lo":3.36,"hi":4.66},{"p":"c7","l":3,"x":0.443,"lo":3.6,"hi":4.4},{"p":"c7","l":3,"x":0.463,"lo":3.7,"hi":4.33},{"p":"c7","l":3,"x":0.504,"lo":4,"hi":4},
{"p":"c8","l":1,"x":0.371,"lo":3.5,"hi":4.7},{"p":"c8","l":1,"x":0.38,"lo":2.9,"hi":5.3},{"p":"c8","l":1,"x":0.395,"lo":2.6,"hi":5.6},{"p":"c8","l":1,"x":0.426,"lo":2.5,"hi":5.71},{"p":"c8","l":1,"x":0.455,"lo":2.6,"hi":5.55},{"p":"c8","l":1,"x":0.47,"lo":2.9,"hi":5.2},{"p":"c8","l":1,"x":0.48,"lo":3.3,"hi":4.8},{"p":"c8","l":1,"x":0.487,"lo":3.8,"hi":4.3},
{"p":"c8","l":2,"x":0.385,"lo":3.5,"hi":4.7},{"p":"c8","l":2,"x":0.39,"lo":3,"hi":5},{"p":"c8","l":2,"x":0.405,"lo":2.75,"hi":5.2},{"p":"c8","l":2,"x":0.428,"lo":2.63,"hi":5.3},{"p":"c8","l":2,"x":0.45,"lo":2.8,"hi":5.15},{"p":"c8","l":2,"x":0.463,"lo":3.2,"hi":4.8},{"p":"c8","l":2,"x":0.472,"lo":3.8,"hi":4.3},
{"p":"c8","l":3,"x":0.403,"lo":3.5,"hi":4.6},{"p":"c8","l":3,"x":0.41,"lo":3.2,"hi":4.82},{"p":"c8","l":3,"x":0.43,"lo":3.03,"hi":4.82},{"p":"c8","l":3,"x":0.445,"lo":3.3,"hi":4.7},{"p":"c8","l":3,"x":0.453,"lo":3.8,"hi":4.2},
{"p":"c9","l":1,"x":5.5,"lo":3.7,"hi":4.2},{"p":"c9","l":1,"x":6.4,"lo":3.28,"hi":4.74},{"p":"c9","l":1,"x":9.1,"lo":2.71,"hi":5.38},{"p":"c9","l":1,"x":11.2,"lo":2.5,"hi":5.6},{"p":"c9","l":1,"x":14.6,"lo":2.5,"hi":5.71},{"p":"c9","l":1,"x":18,"lo":2.5,"hi":5.55},{"p":"c9","l":1,"x":19.4,"lo":2.75,"hi":5.3},{"p":"c9","l":1,"x":20,"lo":2.95,"hi":5},{"p":"c9","l":1,"x":20.7,"lo":3.3,"hi":4.57},{"p":"c9","l":1,"x":21,"lo":3.6,"hi":4},
{"p":"c9","l":2,"x":8.2,"lo":3.6,"hi":4.5},{"p":"c9","l":2,"x":8.8,"lo":3.1,"hi":4.9},{"p":"c9","l":2,"x":10.5,"lo":2.8,"hi":5.15},{"p":"c9","l":2,"x":14.6,"lo":2.63,"hi":5.3},{"p":"c9","l":2,"x":17.5,"lo":2.75,"hi":5.1},{"p":"c9","l":2,"x":19,"lo":3.1,"hi":4.7},{"p":"c9","l":2,"x":19.4,"lo":3.6,"hi":4.2},
{"p":"c9","l":3,"x":11.9,"lo":3.6,"hi":4.6},{"p":"c9","l":3,"x":12.2,"lo":3.3,"hi":4.82},{"p":"c9","l":3,"x":14.6,"lo":3.12,"hi":4.82},{"p":"c9","l":3,"x":16.5,"lo":3.4,"hi":4.82},{"p":"c9","l":3,"x":17.3,"lo":3.9,"hi":4.5},
{"p":"c10","l":1,"x":0,"lo":2.5,"hi":5.74},{"p":"c10","l":1,"x":4.6,"lo":2.5,"hi":5.47},{"p":"c10","l":1,"x":8.7,"lo":2.55,"hi":5.1},{"p":"c10","l":1,"x":11.5,"lo":2.8,"hi":4.9},{"p":"c10","l":1,"x":15.5,"lo":3.12,"hi":4.45},{"p":"c10","l":1,"x":16.9,"lo":3.4,"hi":4.25},{"p":"c10","l":1,"x":18.4,"lo":3.85,"hi":3.85},
{"p":"c10","l":2,"x":0,"lo":2.71,"hi":5.3},{"p":"c10","l":2,"x":4.6,"lo":2.87,"hi":4.9},{"p":"c10","l":2,"x":8.7,"lo":3.28,"hi":4.5},{"p":"c10","l":2,"x":9.5,"lo":3.45,"hi":4.25},{"p":"c10","l":2,"x":10.6,"lo":3.77,"hi":3.9},
{"p":"c10","l":3,"x":0,"lo":3.12,"hi":4.82},{"p":"c10","l":3,"x":3.3,"lo":3.28,"hi":4.41},{"p":"c10","l":3,"x":4.6,"lo":3.6,"hi":4},{"p":"c10","l":3,"x":4.8,"lo":3.77,"hi":3.77},
{"p":"c11","l":1,"x":2,"lo":2.63,"hi":5.63},{"p":"c11","l":1,"x":3,"lo":2.65,"hi":5.71},{"p":"c11","l":1,"x":4.3,"lo":2.7,"hi":5.68},{"p":"c11","l":1,"x":5.5,"lo":2.68,"hi":5.63},{"p":"c11","l":1,"x":6.9,"lo":2.62,"hi":5.58},
{"p":"c11","l":2,"x":2,"lo":2.99,"hi":5.22},{"p":"c11","l":2,"x":3,"lo":3,"hi":5.3},{"p":"c11","l":2,"x":4.3,"lo":3.02,"hi":5.18},{"p":"c11","l":2,"x":5.5,"lo":3,"hi":5.1},{"p":"c11","l":2,"x":6.9,"lo":2.99,"hi":5.06},
{"p":"c11","l":3,"x":2,"lo":3.44,"hi":4.82},{"p":"c11","l":3,"x":3,"lo":3.28,"hi":4.9},{"p":"c11","l":3,"x":4,"lo":3.36,"hi":4.78},{"p":"c11","l":3,"x":4.27,"lo":3,"hi":4.76},{"p":"c11","l":3,"x":4.5,"lo":3.36,"hi":4.74},{"p":"c11","l":3,"x":5.5,"lo":3.6,"hi":4.6},{"p":"c11","l":3,"x":6,"lo":3.65,"hi":4.5},{"p":"c11","l":3,"x":6.9,"lo":3.76,"hi":4.25},
{"p":"c12","l":1,"x":0.04755,"lo":3.8,"hi":4.1},{"p":"c12","l":1,"x":0.0477,"lo":3.2,"hi":4.7},{"p":"c12","l":1,"x":0.0481,"lo":2.7,"hi":5.2},{"p":"c12","l":1,"x":0.049,"lo":2.5,"hi":5.55},{"p":"c12","l":1,"x":0.0506,"lo":2.5,"hi":5.71},{"p":"c12","l":1,"x":0.052,"lo":2.5,"hi":5.55},{"p":"c12","l":1,"x":0.0532,"lo":2.7,"hi":5.2},{"p":"c12","l":1,"x":0.0537,"lo":3.2,"hi":4.7},{"p":"c12","l":1,"x":0.0538,"lo":3.8,"hi":4.1},
{"p":"c12","l":2,"x":0.0485,"lo":3.6,"hi":4.5},{"p":"c12","l":2,"x":0.0487,"lo":3,"hi":5},{"p":"c12","l":2,"x":0.0495,"lo":2.7,"hi":5.25},{"p":"c12","l":2,"x":0.0506,"lo":2.6,"hi":5.38},{"p":"c12","l":2,"x":0.0518,"lo":2.7,"hi":5.25},{"p":"c12","l":2,"x":0.0527,"lo":3,"hi":5},{"p":"c12","l":2,"x":0.0529,"lo":3.6,"hi":4.5},
{"p":"c12","l":3,"x":0.0492,"lo":3.5,"hi":4.5},{"p":"c12","l":3,"x":0.0495,"lo":3.1,"hi":4.8},{"p":"c12","l":3,"x":0.0506,"lo":2.95,"hi":4.9},{"p":"c12","l":3,"x":0.0516,"lo":3.1,"hi":4.8},{"p":"c12","l":3,"x":0.052,"lo":3.5,"hi":4.5},
{"p":"c13","l":1,"x":0,"lo":2.5,"hi":5.63},{"p":"c13","l":1,"x":0.31,"lo":2.5,"hi":5.67},{"p":"c13","l":1,"x":0.45,"lo":2.5,"hi":5.5},{"p":"c13","l":1,"x":0.58,"lo":2.5,"hi":5.27},{"p":"c13","l":1,"x":0.7,"lo":2.5,"hi":4.95},{"p":"c13","l":1,"x":0.74,"lo":2.55,"hi":4.81},{"p":"c13","l":1,"x":0.81,"lo":2.71,"hi":4.4},{"p":"c13","l":1,"x":0.86,"lo":2.95,"hi":3.84},{"p":"c13","l":1,"x":0.88,"lo":3.11,"hi":3.5},
{"p":"c13","l":2,"x":0,"lo":2.79,"hi":5.22},{"p":"c13","l":2,"x":0.13,"lo":2.87,"hi":5.2},{"p":"c13","l":2,"x":0.36,"lo":3.03,"hi":5.14},{"p":"c13","l":2,"x":0.45,"lo":3.1,"hi":5},{"p":"c13","l":2,"x":0.58,"lo":3.2,"hi":4.81},{"p":"c13","l":2,"x":0.66,"lo":3.45,"hi":4.4},{"p":"c13","l":2,"x":0.7,"lo":3.9,"hi":4.1},
{"p":"c13","l":3,"x":0,"lo":3.36,"hi":4.73},{"p":"c13","l":3,"x":0.08,"lo":3.36,"hi":4.73},{"p":"c13","l":3,"x":0.26,"lo":3.2,"hi":4.73},{"p":"c13","l":3,"x":0.31,"lo":3.25,"hi":4.73},{"p":"c13","l":3,"x":0.4,"lo":3.5,"hi":4.3},{"p":"c13","l":3,"x":0.49,"lo":3.84,"hi":3.84},
{"p":"k3","x":2.5,"y":0.61},{"p":"k3","x":2.87,"y":0.25},{"p":"k3","x":3.19,"y":0.21},{"p":"k3","x":3.5,"y":0.12},{"p":"k3","x":3.67,"y":0.055},{"p":"k3","x":3.83,"y":0},{"p":"k3","x":4.23,"y":0},{"p":"k3","x":4.55,"y":0.1},{"p":"k3","x":4.87,"y":0.29},{"p":"k3","x":5.19,"y":0.565},{"p":"k3","x":5.5,"y":1}
]},
"data":{"name":"c"},
"columns":14,
"spacing":{"row":14.15,"column":15.15},
"bounds":"flush",
"concat":[
{"width":73,"height":72,"transform":[{"filter":"datum.p==='a1'"}],"layer":[{"mark":{"type":"area","clip":true,"stroke":"black","strokeWidth":0.8},"encoding":{"x":{"field":"x","type":"quantitative","scale":{"domain":[1.21,1.8],"nice":false,"zero":false},"axis":{"values":[1.25,1.5,1.75],"labels":false,"title":null}},"y":{"field":"lo","type":"quantitative","scale":{"domain":[0.035,0.065],"nice":false,"zero":false},"axis":{"values":[0.04,0.05,0.06],"format":".2f","title":"C₁ [10⁻²GeV⁻²]","titleX":-69,"titleBaseline":"middle"}},"y2":{"field":"hi"},"color":{"field":"l","type":"nominal","scale":{"domain":[1,2,3],"range":["#d3d3d3","#8c8c8c","#383838"]},"legend":null}}},{"mark":{"type":"point","opacity":0},"encoding":{"x":{"field":"x","type":"quantitative","axis":{"orient":"top","values":[1.25,1.5,1.75],"labels":false,"title":null}},"y":{"field":"lo","type":"quantitative","axis":{"orient":"right","values":[0.04,0.05,0.06],"labels":false,"title":null}}}}],"resolve":{"axis":{"x":"independent","y":"independent"}}},
{"width":73,"height":72,"transform":[{"filter":"datum.p==='a2'"}],"layer":[{"mark":{"type":"area","clip":true,"stroke":"black","strokeWidth":0.8},"encoding":{"x":{"field":"x","type":"quantitative","scale":{"domain":[1.21,1.8],"nice":false,"zero":false},"axis":{"values":[1.25,1.5,1.75],"labels":false,"title":null}},"y":{"field":"lo","type":"quantitative","scale":{"domain":[0.035,0.065],"nice":false,"zero":false},"axis":{"values":[0.04,0.05,0.06],"labels":false,"title":null}},"y2":{"field":"hi"},"color":{"field":"l","type":"nominal","scale":{"domain":[1,2,3],"range":["#d3d3d3","#8c8c8c","#383838"]},"legend":null}}},{"mark":{"type":"point","opacity":0},"encoding":{"x":{"field":"x","type":"quantitative","axis":{"orient":"top","values":[1.25,1.5,1.75],"labels":false,"title":null}},"y":{"field":"lo","type":"quantitative","axis":{"orient":"right","values":[0.04,0.05,0.06],"labels":false,"title":null}}}}],"resolve":{"axis":{"x":"independent","y":"independent"}}},
{"width":73,"height":72,"transform":[{"filter":"datum.p==='a3'"}],"layer":[{"mark":{"type":"area","clip":true,"stroke":"black","strokeWidth":0.8},"encoding":{"x":{"field":"x","type":"quantitative","scale":{"domain":[2.3,2.59],"nice":false,"zero":false},"axis":{"values":[2.4,2.55],"labels":false,"title":null}},"y":{"field":"lo","type":"quantitative","scale":{"domain":[0.035,0.065],"nice":false,"zero":false},"axis":{"values":[0.04,0.05,0.06],"labels":false,"title":null}},"y2":{"field":"hi"},"color":{"field":"l","type":"nominal","scale":{"domain":[1,2,3],"range":["#d3d3d3","#8c8c8c","#383838"]},"legend":null}}},{"mark":{"type":"point","opacity":0},"encoding":{"x":{"field":"x","type":"quantitative","axis":{"orient":"top","values":[2.4,2.55],"labels":false,"title":null}},"y":{"field":"lo","type":"quantitative","axis":{"orient":"right","values":[0.04,0.05,0.06],"labels":false,"title":null}}}}],"resolve":{"axis":{"x":"independent","y":"independent"}}},
{"width":73,"height":72,"transform":[{"filter":"datum.p==='a4'"}],"layer":[{"mark":{"type":"area","clip":true,"stroke":"black","strokeWidth":0.8},"encoding":{"x":{"field":"x","type":"quantitative","scale":{"domain":[2.3,2.59],"nice":false,"zero":false},"axis":{"values":[2.4,2.55],"labels":false,"title":null}},"y":{"field":"lo","type":"quantitative","scale":{"domain":[0.035,0.065],"nice":false,"zero":false},"axis":{"values":[0.04,0.05,0.06],"labels":false,"title":null}},"y2":{"field":"hi"},"color":{"field":"l","type":"nominal","scale":{"domain":[1,2,3],"range":["#d3d3d3","#8c8c8c","#383838"]},"legend":null}}},{"mark":{"type":"point","opacity":0},"encoding":{"x":{"field":"x","type":"quantitative","axis":{"orient":"top","values":[2.4,2.55],"labels":false,"title":null}},"y":{"field":"lo","type":"quantitative","axis":{"orient":"right","values":[0.04,0.05,0.06],"labels":false,"title":null}}}}],"resolve":{"axis":{"x":"independent","y":"independent"}}},
{"width":73,"height":72,"transform":[{"filter":"datum.p==='a5'"}],"layer":[{"mark":{"type":"area","clip":true,"stroke":"black","strokeWidth":0.8},"encoding":{"x":{"field":"x","type":"quantitative","scale":{"domain":[0.1,0.99],"nice":false,"zero":false},"axis":{"values":[0.3,0.6,0.9],"labels":false,"title":null}},"y":{"field":"lo","type":"quantitative","scale":{"domain":[0.035,0.065],"nice":false,"zero":false},"axis":{"values":[0.04,0.05,0.06],"labels":false,"title":null}},"y2":{"field":"hi"},"color":{"field":"l","type":"nominal","scale":{"domain":[1,2,3],"range":["#d3d3d3","#8c8c8c","#383838"]},"legend":null}}},{"mark":{"type":"point","opacity":0},"encoding":{"x":{"field":"x","type":"quantitative","axis":{"orient":"top","values":[0.3,0.6,0.9],"labels":false,"title":null}},"y":{"field":"lo","type":"quantitative","axis":{"orient":"right","values":[0.04,0.05,0.06],"labels":false,"title":null}}}}],"resolve":{"axis":{"x":"independent","y":"independent"}}},
{"width":73,"height":72,"transform":[{"filter":"datum.p==='a6'"}],"layer":[{"mark":{"type":"area","clip":true,"stroke":"black","strokeWidth":0.8},"encoding":{"x":{"field":"x","type":"quantitative","scale":{"domain":[0.12,0.9],"nice":false,"zero":false},"axis":{"values":[0.3,0.6,0.9],"labels":false,"title":null}},"y":{"field":"lo","type":"quantitative","scale":{"domain":[0.035,0.065],"nice":false,"zero":false},"axis":{"values":[0.04,0.05,0.06],"labels":false,"title":null}},"y2":{"field":"hi"},"color":{"field":"l","type":"nominal","scale":{"domain":[1,2,3],"range":["#d3d3d3","#8c8c8c","#383838"]},"legend":null}}},{"mark":{"type":"point","opacity":0},"encoding":{"x":{"field":"x","type":"quantitative","axis":{"orient":"top","values":[0.3,0.6,0.9],"labels":false,"title":null}},"y":{"field":"lo","type":"quantitative","axis":{"orient":"right","values":[0.04,0.05,0.06],"labels":false,"title":null}}}}],"resolve":{"axis":{"x":"independent","y":"independent"}}},
{"width":73,"height":72,"transform":[{"filter":"datum.p==='a7'"}],"layer":[{"mark":{"type":"area","clip":true,"stroke":"black","strokeWidth":0.8},"encoding":{"x":{"field":"x","type":"quantitative","scale":{"domain":[0.07,0.97],"nice":false,"zero":false},"axis":{"values":[0.4,0.8],"labels":false,"title":null}},"y":{"field":"lo","type":"quantitative","scale":{"domain":[0.035,0.065],"nice":false,"zero":false},"axis":{"values":[0.04,0.05,0.06],"labels":false,"title":null}},"y2":{"field":"hi"},"color":{"field":"l","type":"nominal","scale":{"domain":[1,2,3],"range":["#d3d3d3","#8c8c8c","#383838"]},"legend":null}}},{"mark":{"type":"point","opacity":0},"encoding":{"x":{"field":"x","type":"quantitative","axis":{"orient":"top","values":[0.4,0.8],"labels":false,"title":null}},"y":{"field":"lo","type":"quantitative","axis":{"orient":"right","values":[0.04,0.05,0.06],"labels":false,"title":null}}}}],"resolve":{"axis":{"x":"independent","y":"independent"}}},
{"width":73,"height":72,"transform":[{"filter":"datum.p==='a8'"}],"layer":[{"mark":{"type":"area","clip":true,"stroke":"black","strokeWidth":0.8},"encoding":{"x":{"field":"x","type":"quantitative","scale":{"domain":[0.2,0.5],"nice":false,"zero":false},"axis":{"values":[0.2,0.3,0.4,0.5],"labels":false,"title":null}},"y":{"field":"lo","type":"quantitative","scale":{"domain":[0.035,0.065],"nice":false,"zero":false},"axis":{"values":[0.04,0.05,0.06],"labels":false,"title":null}},"y2":{"field":"hi"},"color":{"field":"l","type":"nominal","scale":{"domain":[1,2,3],"range":["#d3d3d3","#8c8c8c","#383838"]},"legend":null}}},{"mark":{"type":"point","opacity":0},"encoding":{"x":{"field":"x","type":"quantitative","axis":{"orient":"top","values":[0.2,0.3,0.4,0.5],"labels":false,"title":null}},"y":{"field":"lo","type":"quantitative","axis":{"orient":"right","values":[0.04,0.05,0.06],"labels":false,"title":null}}}}],"resolve":{"axis":{"x":"independent","y":"independent"}}},
{"width":73,"height":72,"transform":[{"filter":"datum.p==='a9'"}],"layer":[{"mark":{"type":"area","clip":true,"stroke":"black","strokeWidth":0.8},"encoding":{"x":{"field":"x","type":"quantitative","scale":{"domain":[0,30],"nice":false,"zero":false},"axis":{"values":[0,10,20,30],"labels":false,"title":null}},"y":{"field":"lo","type":"quantitative","scale":{"domain":[0.035,0.065],"nice":false,"zero":false},"axis":{"values":[0.04,0.05,0.06],"labels":false,"title":null}},"y2":{"field":"hi"},"color":{"field":"l","type":"nominal","scale":{"domain":[1,2,3],"range":["#d3d3d3","#8c8c8c","#383838"]},"legend":null}}},{"mark":{"type":"point","opacity":0},"encoding":{"x":{"field":"x","type":"quantitative","axis":{"orient":"top","values":[0,10,20,30],"labels":false,"title":null}},"y":{"field":"lo","type":"quantitative","axis":{"orient":"right","values":[0.04,0.05,0.06],"labels":false,"title":null}}}}],"resolve":{"axis":{"x":"independent","y":"independent"}}},
{"width":73,"height":72,"transform":[{"filter":"datum.p==='a10'"}],"layer":[{"mark":{"type":"area","clip":true,"stroke":"black","strokeWidth":0.8},"encoding":{"x":{"field":"x","type":"quantitative","scale":{"domain":[0,60],"nice":false,"zero":false},"axis":{"values":[0,20,40,60],"labels":false,"title":null}},"y":{"field":"lo","type":"quantitative","scale":{"domain":[0.035,0.065],"nice":false,"zero":false},"axis":{"values":[0.04,0.05,0.06],"labels":false,"title":null}},"y2":{"field":"hi"},"color":{"field":"l","type":"nominal","scale":{"domain":[1,2,3],"range":["#d3d3d3","#8c8c8c","#383838"]},"legend":null}}},{"mark":{"type":"point","opacity":0},"encoding":{"x":{"field":"x","type":"quantitative","axis":{"orient":"top","values":[0,20,40,60],"labels":false,"title":null}},"y":{"field":"lo","type":"quantitative","axis":{"orient":"right","values":[0.04,0.05,0.06],"labels":false,"title":null}}}}],"resolve":{"axis":{"x":"independent","y":"independent"}}},
{"width":73,"height":72,"transform":[{"filter":"datum.p==='a11'"}],"layer":[{"mark":{"type":"area","clip":true,"stroke":"black","strokeWidth":0.8},"encoding":{"x":{"field":"x","type":"quantitative","scale":{"domain":[2,6.9],"nice":false,"zero":false},"axis":{"values":[2,4,6],"labels":false,"title":null}},"y":{"field":"lo","type":"quantitative","scale":{"domain":[0.035,0.065],"nice":false,"zero":false},"axis":{"values":[0.04,0.05,0.06],"labels":false,"title":null}},"y2":{"field":"hi"},"color":{"field":"l","type":"nominal","scale":{"domain":[1,2,3],"range":["#d3d3d3","#8c8c8c","#383838"]},"legend":null}}},{"mark":{"type":"point","opacity":0},"encoding":{"x":{"field":"x","type":"quantitative","axis":{"orient":"top","values":[2,4,6],"labels":false,"title":null}},"y":{"field":"lo","type":"quantitative","axis":{"orient":"right","values":[0.04,0.05,0.06],"labels":false,"title":null}}}}],"resolve":{"axis":{"x":"independent","y":"independent"}}},
{"width":73,"height":72,"transform":[{"filter":"datum.p==='k1'"}],"layer":[{"mark":{"type":"line","clip":true,"color":"black","strokeWidth":2},"encoding":{"x":{"field":"x","type":"quantitative","scale":{"domain":[0.035,0.065],"nice":false,"zero":false},"axis":{"values":[0.04,0.05,0.06],"labels":false,"title":null}},"y":{"field":"y","type":"quantitative","scale":{"domain":[0,1],"nice":false},"axis":{"values":[0,0.4,0.8],"labels":false,"title":null}}}},{"mark":{"type":"point","opacity":0},"encoding":{"x":{"field":"x","type":"quantitative","axis":{"orient":"top","values":[0.04,0.05,0.06],"labels":false,"title":null}},"y":{"field":"y","type":"quantitative","axis":{"orient":"right","values":[0,0.4,0.8],"labels":false,"title":null}}}}],"resolve":{"axis":{"x":"independent","y":"independent"}}},
{"width":73,"height":72,"data":{"values":[]},"mark":{"type":"point","opacity":0},"view":{"stroke":null}},
{"width":73,"height":72,"data":{"values":[]},"mark":{"type":"point","opacity":0},"view":{"stroke":null}},
{"width":73,"height":72,"transform":[{"filter":"datum.p==='b1'"}],"layer":[{"mark":{"type":"area","clip":true,"stroke":"black","strokeWidth":0.8},"encoding":{"x":{"field":"x","type":"quantitative","scale":{"domain":[1.21,1.8],"nice":false,"zero":false},"axis":{"values":[1.25,1.5,1.75],"labels":false,"title":null}},"y":{"field":"lo","type":"quantitative","scale":{"domain":[0,1],"nice":false,"zero":false},"axis":{"values":[0,0.4,0.8],"format":".1f","title":"C₅ [10⁻³]","titleX":-69,"titleBaseline":"middle"}},"y2":{"field":"hi"},"color":{"field":"l","type":"nominal","scale":{"domain":[1,2,3],"range":["#d3d3d3","#8c8c8c","#383838"]},"legend":null}}},{"mark":{"type":"point","opacity":0},"encoding":{"x":{"field":"x","type":"quantitative","axis":{"orient":"top","values":[1.25,1.5,1.75],"labels":false,"title":null}},"y":{"field":"lo","type":"quantitative","axis":{"orient":"right","values":[0,0.4,0.8],"labels":false,"title":null}}}}],"resolve":{"axis":{"x":"independent","y":"independent"}}},
{"width":73,"height":72,"transform":[{"filter":"datum.p==='b2'"}],"layer":[{"mark":{"type":"area","clip":true,"stroke":"black","strokeWidth":0.8},"encoding":{"x":{"field":"x","type":"quantitative","scale":{"domain":[1.21,1.8],"nice":false,"zero":false},"axis":{"values":[1.25,1.5,1.75],"labels":false,"title":null}},"y":{"field":"lo","type":"quantitative","scale":{"domain":[0,1],"nice":false,"zero":false},"axis":{"values":[0,0.4,0.8],"labels":false,"title":null}},"y2":{"field":"hi"},"color":{"field":"l","type":"nominal","scale":{"domain":[1,2,3],"range":["#d3d3d3","#8c8c8c","#383838"]},"legend":null}}},{"mark":{"type":"point","opacity":0},"encoding":{"x":{"field":"x","type":"quantitative","axis":{"orient":"top","values":[1.25,1.5,1.75],"labels":false,"title":null}},"y":{"field":"lo","type":"quantitative","axis":{"orient":"right","values":[0,0.4,0.8],"labels":false,"title":null}}}}],"resolve":{"axis":{"x":"independent","y":"independent"}}},
{"width":73,"height":72,"transform":[{"filter":"datum.p==='b3'"}],"layer":[{"mark":{"type":"area","clip":true,"stroke":"black","strokeWidth":0.8},"encoding":{"x":{"field":"x","type":"quantitative","scale":{"domain":[2.3,2.59],"nice":false,"zero":false},"axis":{"values":[2.4,2.55],"labels":false,"title":null}},"y":{"field":"lo","type":"quantitative","scale":{"domain":[0,1],"nice":false,"zero":false},"axis":{"values":[0,0.4,0.8],"labels":false,"title":null}},"y2":{"field":"hi"},"color":{"field":"l","type":"nominal","scale":{"domain":[1,2,3],"range":["#d3d3d3","#8c8c8c","#383838"]},"legend":null}}},{"mark":{"type":"point","opacity":0},"encoding":{"x":{"field":"x","type":"quantitative","axis":{"orient":"top","values":[2.4,2.55],"labels":false,"title":null}},"y":{"field":"lo","type":"quantitative","axis":{"orient":"right","values":[0,0.4,0.8],"labels":false,"title":null}}}}],"resolve":{"axis":{"x":"independent","y":"independent"}}},
{"width":73,"height":72,"transform":[{"filter":"datum.p==='b4'"}],"layer":[{"mark":{"type":"area","clip":true,"stroke":"black","strokeWidth":0.8},"encoding":{"x":{"field":"x","type":"quantitative","scale":{"domain":[2.3,2.59],"nice":false,"zero":false},"axis":{"values":[2.4,2.55],"labels":false,"title":null}},"y":{"field":"lo","type":"quantitative","scale":{"domain":[0,1],"nice":false,"zero":false},"axis":{"values":[0,0.4,0.8],"labels":false,"title":null}},"y2":{"field":"hi"},"color":{"field":"l","type":"nominal","scale":{"domain":[1,2,3],"range":["#d3d3d3","#8c8c8c","#383838"]},"legend":null}}},{"mark":{"type":"point","opacity":0},"encoding":{"x":{"field":"x","type":"quantitative","axis":{"orient":"top","values":[2.4,2.55],"labels":false,"title":null}},"y":{"field":"lo","type":"quantitative","axis":{"orient":"right","values":[0,0.4,0.8],"labels":false,"title":null}}}}],"resolve":{"axis":{"x":"independent","y":"independent"}}},
{"width":73,"height":72,"transform":[{"filter":"datum.p==='b5'"}],"layer":[{"mark":{"type":"area","clip":true,"stroke":"black","strokeWidth":0.8},"encoding":{"x":{"field":"x","type":"quantitative","scale":{"domain":[0.1,0.99],"nice":false,"zero":false},"axis":{"values":[0.3,0.6,0.9],"labels":false,"title":null}},"y":{"field":"lo","type":"quantitative","scale":{"domain":[0,1],"nice":false,"zero":false},"axis":{"values":[0,0.4,0.8],"labels":false,"title":null}},"y2":{"field":"hi"},"color":{"field":"l","type":"nominal","scale":{"domain":[1,2,3],"range":["#d3d3d3","#8c8c8c","#383838"]},"legend":null}}},{"mark":{"type":"point","opacity":0},"encoding":{"x":{"field":"x","type":"quantitative","axis":{"orient":"top","values":[0.3,0.6,0.9],"labels":false,"title":null}},"y":{"field":"lo","type":"quantitative","axis":{"orient":"right","values":[0,0.4,0.8],"labels":false,"title":null}}}}],"resolve":{"axis":{"x":"independent","y":"independent"}}},
{"width":73,"height":72,"transform":[{"filter":"datum.p==='b6'"}],"layer":[{"mark":{"type":"area","clip":true,"stroke":"black","strokeWidth":0.8},"encoding":{"x":{"field":"x","type":"quantitative","scale":{"domain":[0.12,0.9],"nice":false,"zero":false},"axis":{"values":[0.3,0.6,0.9],"labels":false,"title":null}},"y":{"field":"lo","type":"quantitative","scale":{"domain":[0,1],"nice":false,"zero":false},"axis":{"values":[0,0.4,0.8],"labels":false,"title":null}},"y2":{"field":"hi"},"color":{"field":"l","type":"nominal","scale":{"domain":[1,2,3],"range":["#d3d3d3","#8c8c8c","#383838"]},"legend":null}}},{"mark":{"type":"point","opacity":0},"encoding":{"x":{"field":"x","type":"quantitative","axis":{"orient":"top","values":[0.3,0.6,0.9],"labels":false,"title":null}},"y":{"field":"lo","type":"quantitative","axis":{"orient":"right","values":[0,0.4,0.8],"labels":false,"title":null}}}}],"resolve":{"axis":{"x":"independent","y":"independent"}}},
{"width":73,"height":72,"transform":[{"filter":"datum.p==='b7'"}],"layer":[{"mark":{"type":"area","clip":true,"stroke":"black","strokeWidth":0.8},"encoding":{"x":{"field":"x","type":"quantitative","scale":{"domain":[0.07,0.97],"nice":false,"zero":false},"axis":{"values":[0.4,0.8],"labels":false,"title":null}},"y":{"field":"lo","type":"quantitative","scale":{"domain":[0,1],"nice":false,"zero":false},"axis":{"values":[0,0.4,0.8],"labels":false,"title":null}},"y2":{"field":"hi"},"color":{"field":"l","type":"nominal","scale":{"domain":[1,2,3],"range":["#d3d3d3","#8c8c8c","#383838"]},"legend":null}}},{"mark":{"type":"point","opacity":0},"encoding":{"x":{"field":"x","type":"quantitative","axis":{"orient":"top","values":[0.4,0.8],"labels":false,"title":null}},"y":{"field":"lo","type":"quantitative","axis":{"orient":"right","values":[0,0.4,0.8],"labels":false,"title":null}}}}],"resolve":{"axis":{"x":"independent","y":"independent"}}},
{"width":73,"height":72,"transform":[{"filter":"datum.p==='b8'"}],"layer":[{"mark":{"type":"area","clip":true,"stroke":"black","strokeWidth":0.8},"encoding":{"x":{"field":"x","type":"quantitative","scale":{"domain":[0.2,0.5],"nice":false,"zero":false},"axis":{"values":[0.2,0.3,0.4,0.5],"labels":false,"title":null}},"y":{"field":"lo","type":"quantitative","scale":{"domain":[0,1],"nice":false,"zero":false},"axis":{"values":[0,0.4,0.8],"labels":false,"title":null}},"y2":{"field":"hi"},"color":{"field":"l","type":"nominal","scale":{"domain":[1,2,3],"range":["#d3d3d3","#8c8c8c","#383838"]},"legend":null}}},{"mark":{"type":"point","opacity":0},"encoding":{"x":{"field":"x","type":"quantitative","axis":{"orient":"top","values":[0.2,0.3,0.4,0.5],"labels":false,"title":null}},"y":{"field":"lo","type":"quantitative","axis":{"orient":"right","values":[0,0.4,0.8],"labels":false,"title":null}}}}],"resolve":{"axis":{"x":"independent","y":"independent"}}},
{"width":73,"height":72,"transform":[{"filter":"datum.p==='b9'"}],"layer":[{"mark":{"type":"area","clip":true,"stroke":"black","strokeWidth":0.8},"encoding":{"x":{"field":"x","type":"quantitative","scale":{"domain":[0,30],"nice":false,"zero":false},"axis":{"values":[0,10,20,30],"labels":false,"title":null}},"y":{"field":"lo","type":"quantitative","scale":{"domain":[0,1],"nice":false,"zero":false},"axis":{"values":[0,0.4,0.8],"labels":false,"title":null}},"y2":{"field":"hi"},"color":{"field":"l","type":"nominal","scale":{"domain":[1,2,3],"range":["#d3d3d3","#8c8c8c","#383838"]},"legend":null}}},{"mark":{"type":"point","opacity":0},"encoding":{"x":{"field":"x","type":"quantitative","axis":{"orient":"top","values":[0,10,20,30],"labels":false,"title":null}},"y":{"field":"lo","type":"quantitative","axis":{"orient":"right","values":[0,0.4,0.8],"labels":false,"title":null}}}}],"resolve":{"axis":{"x":"independent","y":"independent"}}},
{"width":73,"height":72,"transform":[{"filter":"datum.p==='b10'"}],"layer":[{"mark":{"type":"area","clip":true,"stroke":"black","strokeWidth":0.8},"encoding":{"x":{"field":"x","type":"quantitative","scale":{"domain":[0,60],"nice":false,"zero":false},"axis":{"values":[0,20,40,60],"labels":false,"title":null}},"y":{"field":"lo","type":"quantitative","scale":{"domain":[0,1],"nice":false,"zero":false},"axis":{"values":[0,0.4,0.8],"labels":false,"title":null}},"y2":{"field":"hi"},"color":{"field":"l","type":"nominal","scale":{"domain":[1,2,3],"range":["#d3d3d3","#8c8c8c","#383838"]},"legend":null}}},{"mark":{"type":"point","opacity":0},"encoding":{"x":{"field":"x","type":"quantitative","axis":{"orient":"top","values":[0,20,40,60],"labels":false,"title":null}},"y":{"field":"lo","type":"quantitative","axis":{"orient":"right","values":[0,0.4,0.8],"labels":false,"title":null}}}}],"resolve":{"axis":{"x":"independent","y":"independent"}}},
{"width":73,"height":72,"transform":[{"filter":"datum.p==='b11'"}],"layer":[{"mark":{"type":"area","clip":true,"stroke":"black","strokeWidth":0.8},"encoding":{"x":{"field":"x","type":"quantitative","scale":{"domain":[2,6.9],"nice":false,"zero":false},"axis":{"values":[2,4,6],"labels":false,"title":null}},"y":{"field":"lo","type":"quantitative","scale":{"domain":[0,1],"nice":false,"zero":false},"axis":{"values":[0,0.4,0.8],"labels":false,"title":null}},"y2":{"field":"hi"},"color":{"field":"l","type":"nominal","scale":{"domain":[1,2,3],"range":["#d3d3d3","#8c8c8c","#383838"]},"legend":null}}},{"mark":{"type":"point","opacity":0},"encoding":{"x":{"field":"x","type":"quantitative","axis":{"orient":"top","values":[2,4,6],"labels":false,"title":null}},"y":{"field":"lo","type":"quantitative","axis":{"orient":"right","values":[0,0.4,0.8],"labels":false,"title":null}}}}],"resolve":{"axis":{"x":"independent","y":"independent"}}},
{"width":73,"height":72,"transform":[{"filter":"datum.p==='b12'"}],"layer":[{"mark":{"type":"area","clip":true,"stroke":"black","strokeWidth":0.8},"encoding":{"x":{"field":"x","type":"quantitative","scale":{"domain":[0.035,0.065],"nice":false,"zero":false},"axis":{"values":[0.04,0.05,0.06],"labels":false,"title":null}},"y":{"field":"lo","type":"quantitative","scale":{"domain":[0,1],"nice":false,"zero":false},"axis":{"values":[0,0.4,0.8],"labels":false,"title":null}},"y2":{"field":"hi"},"color":{"field":"l","type":"nominal","scale":{"domain":[1,2,3],"range":["#d3d3d3","#8c8c8c","#383838"]},"legend":null}}},{"mark":{"type":"point","opacity":0},"encoding":{"x":{"field":"x","type":"quantitative","axis":{"orient":"top","values":[0.04,0.05,0.06],"labels":false,"title":null}},"y":{"field":"lo","type":"quantitative","axis":{"orient":"right","values":[0,0.4,0.8],"labels":false,"title":null}}}}],"resolve":{"axis":{"x":"independent","y":"independent"}}},
{"width":73,"height":72,"transform":[{"filter":"datum.p==='k2'"}],"layer":[{"mark":{"type":"line","clip":true,"color":"black","strokeWidth":2},"encoding":{"x":{"field":"x","type":"quantitative","scale":{"domain":[0,1],"nice":false,"zero":false},"axis":{"values":[0,0.4,0.8],"labels":false,"title":null}},"y":{"field":"y","type":"quantitative","scale":{"domain":[0,1],"nice":false},"axis":{"values":[0,0.4,0.8],"labels":false,"title":null}}}},{"mark":{"type":"point","opacity":0},"encoding":{"x":{"field":"x","type":"quantitative","axis":{"orient":"top","values":[0,0.4,0.8],"labels":false,"title":null}},"y":{"field":"y","type":"quantitative","axis":{"orient":"right","values":[0,0.4,0.8],"labels":false,"title":null}}}}],"resolve":{"axis":{"x":"independent","y":"independent"}}},
{"width":73,"height":72,"data":{"values":[]},"mark":{"type":"point","opacity":0},"view":{"stroke":null}},
{"width":73,"height":72,"transform":[{"filter":"datum.p==='c1'"}],"layer":[{"mark":{"type":"area","clip":true,"stroke":"black","strokeWidth":0.8},"encoding":{"x":{"field":"x","type":"quantitative","scale":{"domain":[1.21,1.8],"nice":false,"zero":false},"axis":{"values":[1.25,1.5,1.75],"format":".2f","labelAngle":-90,"labelAlign":"right","labelBaseline":"middle","title":"γ₁,ₚ","titleFontStyle":"italic","titleY":48,"titleBaseline":"middle"}},"y":{"field":"lo","type":"quantitative","scale":{"domain":[2.5,6],"nice":false,"zero":false},"axis":{"values":[3,4.5,6],"format":".1f","title":"C₆","titleX":-45,"titleBaseline":"middle"}},"y2":{"field":"hi"},"color":{"field":"l","type":"nominal","scale":{"domain":[1,2,3],"range":["#d3d3d3","#8c8c8c","#383838"]},"legend":null}}},{"mark":{"type":"point","opacity":0},"encoding":{"x":{"field":"x","type":"quantitative","axis":{"orient":"top","values":[1.25,1.5,1.75],"labels":false,"title":null}},"y":{"field":"lo","type":"quantitative","axis":{"orient":"right","values":[3,4.5,6],"labels":false,"title":null}}}}],"resolve":{"axis":{"x":"independent","y":"independent"}}},
{"width":73,"height":72,"transform":[{"filter":"datum.p==='c2'"}],"layer":[{"mark":{"type":"area","clip":true,"stroke":"black","strokeWidth":0.8},"encoding":{"x":{"field":"x","type":"quantitative","scale":{"domain":[1.21,1.8],"nice":false,"zero":false},"axis":{"values":[1.25,1.5,1.75],"format":".2f","labelAngle":-90,"labelAlign":"right","labelBaseline":"middle","title":"γ₁","titleFontStyle":"italic","titleY":48,"titleBaseline":"middle"}},"y":{"field":"lo","type":"quantitative","scale":{"domain":[2.5,6],"nice":false,"zero":false},"axis":{"values":[3,4.5,6],"labels":false,"title":null}},"y2":{"field":"hi"},"color":{"field":"l","type":"nominal","scale":{"domain":[1,2,3],"range":["#d3d3d3","#8c8c8c","#383838"]},"legend":null}}},{"mark":{"type":"point","opacity":0},"encoding":{"x":{"field":"x","type":"quantitative","axis":{"orient":"top","values":[1.25,1.5,1.75],"labels":false,"title":null}},"y":{"field":"lo","type":"quantitative","axis":{"orient":"right","values":[3,4.5,6],"labels":false,"title":null}}}}],"resolve":{"axis":{"x":"independent","y":"independent"}}},
{"width":73,"height":72,"transform":[{"filter":"datum.p==='c3'"}],"layer":[{"mark":{"type":"area","clip":true,"stroke":"black","strokeWidth":0.8},"encoding":{"x":{"field":"x","type":"quantitative","scale":{"domain":[2.3,2.59],"nice":false,"zero":false},"axis":{"values":[2.4,2.55],"format":".2f","labelAngle":-90,"labelAlign":"right","labelBaseline":"middle","title":"γ₂,ₚ","titleFontStyle":"italic","titleY":48,"titleBaseline":"middle"}},"y":{"field":"lo","type":"quantitative","scale":{"domain":[2.5,6],"nice":false,"zero":false},"axis":{"values":[3,4.5,6],"labels":false,"title":null}},"y2":{"field":"hi"},"color":{"field":"l","type":"nominal","scale":{"domain":[1,2,3],"range":["#d3d3d3","#8c8c8c","#383838"]},"legend":null}}},{"mark":{"type":"point","opacity":0},"encoding":{"x":{"field":"x","type":"quantitative","axis":{"orient":"top","values":[2.4,2.55],"labels":false,"title":null}},"y":{"field":"lo","type":"quantitative","axis":{"orient":"right","values":[3,4.5,6],"labels":false,"title":null}}}}],"resolve":{"axis":{"x":"independent","y":"independent"}}},
{"width":73,"height":72,"transform":[{"filter":"datum.p==='c4'"}],"layer":[{"mark":{"type":"area","clip":true,"stroke":"black","strokeWidth":0.8},"encoding":{"x":{"field":"x","type":"quantitative","scale":{"domain":[2.3,2.59],"nice":false,"zero":false},"axis":{"values":[2.4,2.55],"format":".2f","labelAngle":-90,"labelAlign":"right","labelBaseline":"middle","title":"γ₂","titleFontStyle":"italic","titleY":51,"titleBaseline":"middle"}},"y":{"field":"lo","type":"quantitative","scale":{"domain":[2.5,6],"nice":false,"zero":false},"axis":{"values":[3,4.5,6],"labels":false,"title":null}},"y2":{"field":"hi"},"color":{"field":"l","type":"nominal","scale":{"domain":[1,2,3],"range":["#d3d3d3","#8c8c8c","#383838"]},"legend":null}}},{"mark":{"type":"point","opacity":0},"encoding":{"x":{"field":"x","type":"quantitative","axis":{"orient":"top","values":[2.4,2.55],"labels":false,"title":null}},"y":{"field":"lo","type":"quantitative","axis":{"orient":"right","values":[3,4.5,6],"labels":false,"title":null}}}}],"resolve":{"axis":{"x":"independent","y":"independent"}}},
{"width":73,"height":72,"transform":[{"filter":"datum.p==='c5'"}],"layer":[{"mark":{"type":"area","clip":true,"stroke":"black","strokeWidth":0.8},"encoding":{"x":{"field":"x","type":"quantitative","scale":{"domain":[0.1,0.99],"nice":false,"zero":false},"axis":{"values":[0.3,0.6,0.9],"format":".1f","labelAngle":-90,"labelAlign":"right","labelBaseline":"middle","title":"R₀ [10GV]","titleY":64,"titleBaseline":"middle"}},"y":{"field":"lo","type":"quantitative","scale":{"domain":[2.5,6],"nice":false,"zero":false},"axis":{"values":[3,4.5,6],"labels":false,"title":null}},"y2":{"field":"hi"},"color":{"field":"l","type":"nominal","scale":{"domain":[1,2,3],"range":["#d3d3d3","#8c8c8c","#383838"]},"legend":null}}},{"mark":{"type":"point","opacity":0},"encoding":{"x":{"field":"x","type":"quantitative","axis":{"orient":"top","values":[0.3,0.6,0.9],"labels":false,"title":null}},"y":{"field":"lo","type":"quantitative","axis":{"orient":"right","values":[3,4.5,6],"labels":false,"title":null}}}}],"resolve":{"axis":{"x":"independent","y":"independent"}}},
{"width":73,"height":72,"transform":[{"filter":"datum.p==='c6'"}],"layer":[{"mark":{"type":"area","clip":true,"stroke":"black","strokeWidth":0.8},"encoding":{"x":{"field":"x","type":"quantitative","scale":{"domain":[0.12,0.9],"nice":false,"zero":false},"axis":{"values":[0.3,0.6,0.9],"format":".1f","labelAngle":-90,"labelAlign":"right","labelBaseline":"middle","title":"s","titleFontStyle":"italic","titleY":47,"titleBaseline":"middle"}},"y":{"field":"lo","type":"quantitative","scale":{"domain":[2.5,6],"nice":false,"zero":false},"axis":{"values":[3,4.5,6],"labels":false,"title":null}},"y2":{"field":"hi"},"color":{"field":"l","type":"nominal","scale":{"domain":[1,2,3],"range":["#d3d3d3","#8c8c8c","#383838"]},"legend":null}}},{"mark":{"type":"point","opacity":0},"encoding":{"x":{"field":"x","type":"quantitative","axis":{"orient":"top","values":[0.3,0.6,0.9],"labels":false,"title":null}},"y":{"field":"lo","type":"quantitative","axis":{"orient":"right","values":[3,4.5,6],"labels":false,"title":null}}}}],"resolve":{"axis":{"x":"independent","y":"independent"}}},
{"width":73,"height":72,"transform":[{"filter":"datum.p==='c7'"}],"layer":[{"mark":{"type":"area","clip":true,"stroke":"black","strokeWidth":0.8},"encoding":{"x":{"field":"x","type":"quantitative","scale":{"domain":[0.07,0.97],"nice":false,"zero":false},"axis":{"values":[0.4,0.8],"format":".1f","labelAngle":-90,"labelAlign":"right","labelBaseline":"middle","title":"D₀ [10²⁹cm²/s]","titleY":65,"titleBaseline":"middle"}},"y":{"field":"lo","type":"quantitative","scale":{"domain":[2.5,6],"nice":false,"zero":false},"axis":{"values":[3,4.5,6],"labels":false,"title":null}},"y2":{"field":"hi"},"color":{"field":"l","type":"nominal","scale":{"domain":[1,2,3],"range":["#d3d3d3","#8c8c8c","#383838"]},"legend":null}}},{"mark":{"type":"point","opacity":0},"encoding":{"x":{"field":"x","type":"quantitative","axis":{"orient":"top","values":[0.4,0.8],"labels":false,"title":null}},"y":{"field":"lo","type":"quantitative","axis":{"orient":"right","values":[3,4.5,6],"labels":false,"title":null}}}}],"resolve":{"axis":{"x":"independent","y":"independent"}}},
{"width":73,"height":72,"transform":[{"filter":"datum.p==='c8'"}],"layer":[{"mark":{"type":"area","clip":true,"stroke":"black","strokeWidth":0.8},"encoding":{"x":{"field":"x","type":"quantitative","scale":{"domain":[0.2,0.5],"nice":false,"zero":false},"axis":{"values":[0.2,0.3,0.4,0.5],"format":".1f","labelAngle":-90,"labelAlign":"right","labelBaseline":"middle","title":"δ","titleFontStyle":"italic","titleY":48,"titleBaseline":"middle"}},"y":{"field":"lo","type":"quantitative","scale":{"domain":[2.5,6],"nice":false,"zero":false},"axis":{"values":[3,4.5,6],"labels":false,"title":null}},"y2":{"field":"hi"},"color":{"field":"l","type":"nominal","scale":{"domain":[1,2,3],"range":["#d3d3d3","#8c8c8c","#383838"]},"legend":null}}},{"mark":{"type":"point","opacity":0},"encoding":{"x":{"field":"x","type":"quantitative","axis":{"orient":"top","values":[0.2,0.3,0.4,0.5],"labels":false,"title":null}},"y":{"field":"lo","type":"quantitative","axis":{"orient":"right","values":[3,4.5,6],"labels":false,"title":null}}}}],"resolve":{"axis":{"x":"independent","y":"independent"}}},
{"width":73,"height":72,"transform":[{"filter":"datum.p==='c9'"}],"layer":[{"mark":{"type":"area","clip":true,"stroke":"black","strokeWidth":0.8},"encoding":{"x":{"field":"x","type":"quantitative","scale":{"domain":[0,30],"nice":false,"zero":false},"axis":{"values":[0,10,20,30],"format":"d","labelAngle":-90,"labelAlign":"right","labelBaseline":"middle","title":"vA [km/s]","titleY":64,"titleBaseline":"middle"}},"y":{"field":"lo","type":"quantitative","scale":{"domain":[2.5,6],"nice":false,"zero":false},"axis":{"values":[3,4.5,6],"labels":false,"title":null}},"y2":{"field":"hi"},"color":{"field":"l","type":"nominal","scale":{"domain":[1,2,3],"range":["#d3d3d3","#8c8c8c","#383838"]},"legend":null}}},{"mark":{"type":"point","opacity":0},"encoding":{"x":{"field":"x","type":"quantitative","axis":{"orient":"top","values":[0,10,20,30],"labels":false,"title":null}},"y":{"field":"lo","type":"quantitative","axis":{"orient":"right","values":[3,4.5,6],"labels":false,"title":null}}}}],"resolve":{"axis":{"x":"independent","y":"independent"}}},
{"width":73,"height":72,"transform":[{"filter":"datum.p==='c10'"}],"layer":[{"mark":{"type":"area","clip":true,"stroke":"black","strokeWidth":0.8},"encoding":{"x":{"field":"x","type":"quantitative","scale":{"domain":[0,60],"nice":false,"zero":false},"axis":{"values":[0,20,40,60],"format":"d","labelAngle":-90,"labelAlign":"right","labelBaseline":"middle","title":"v₀,c [km/s]","titleY":43,"titleBaseline":"middle"}},"y":{"field":"lo","type":"quantitative","scale":{"domain":[2.5,6],"nice":false,"zero":false},"axis":{"values":[3,4.5,6],"labels":false,"title":null}},"y2":{"field":"hi"},"color":{"field":"l","type":"nominal","scale":{"domain":[1,2,3],"range":["#d3d3d3","#8c8c8c","#383838"]},"legend":null}}},{"mark":{"type":"point","opacity":0},"encoding":{"x":{"field":"x","type":"quantitative","axis":{"orient":"top","values":[0,20,40,60],"labels":false,"title":null}},"y":{"field":"lo","type":"quantitative","axis":{"orient":"right","values":[3,4.5,6],"labels":false,"title":null}}}}],"resolve":{"axis":{"x":"independent","y":"independent"}}},
{"width":73,"height":72,"transform":[{"filter":"datum.p==='c11'"}],"layer":[{"mark":{"type":"area","clip":true,"stroke":"black","strokeWidth":0.8},"encoding":{"x":{"field":"x","type":"quantitative","scale":{"domain":[2,6.9],"nice":false,"zero":false},"axis":{"values":[2,4,6],"format":"d","labelAngle":-90,"labelAlign":"right","labelBaseline":"middle","title":"zₕ [kpc]","titleY":31,"titleBaseline":"middle"}},"y":{"field":"lo","type":"quantitative","scale":{"domain":[2.5,6],"nice":false,"zero":false},"axis":{"values":[3,4.5,6],"labels":false,"title":null}},"y2":{"field":"hi"},"color":{"field":"l","type":"nominal","scale":{"domain":[1,2,3],"range":["#d3d3d3","#8c8c8c","#383838"]},"legend":null}}},{"mark":{"type":"point","opacity":0},"encoding":{"x":{"field":"x","type":"quantitative","axis":{"orient":"top","values":[2,4,6],"labels":false,"title":null}},"y":{"field":"lo","type":"quantitative","axis":{"orient":"right","values":[3,4.5,6],"labels":false,"title":null}}}}],"resolve":{"axis":{"x":"independent","y":"independent"}}},
{"width":73,"height":72,"transform":[{"filter":"datum.p==='c12'"}],"layer":[{"mark":{"type":"area","clip":true,"stroke":"black","strokeWidth":0.8},"encoding":{"x":{"field":"x","type":"quantitative","scale":{"domain":[0.035,0.065],"nice":false,"zero":false},"axis":{"values":[0.04,0.05,0.06],"format":".2f","labelAngle":-90,"labelAlign":"right","labelBaseline":"middle","title":"C₁ [10⁻²GeV⁻²]","titleY":68,"titleBaseline":"middle"}},"y":{"field":"lo","type":"quantitative","scale":{"domain":[2.5,6],"nice":false,"zero":false},"axis":{"values":[3,4.5,6],"labels":false,"title":null}},"y2":{"field":"hi"},"color":{"field":"l","type":"nominal","scale":{"domain":[1,2,3],"range":["#d3d3d3","#8c8c8c","#383838"]},"legend":null}}},{"mark":{"type":"point","opacity":0},"encoding":{"x":{"field":"x","type":"quantitative","axis":{"orient":"top","values":[0.04,0.05,0.06],"labels":false,"title":null}},"y":{"field":"lo","type":"quantitative","axis":{"orient":"right","values":[3,4.5,6],"labels":false,"title":null}}}}],"resolve":{"axis":{"x":"independent","y":"independent"}}},
{"width":73,"height":72,"transform":[{"filter":"datum.p==='c13'"}],"layer":[{"mark":{"type":"area","clip":true,"stroke":"black","strokeWidth":0.8},"encoding":{"x":{"field":"x","type":"quantitative","scale":{"domain":[0,1],"nice":false,"zero":false},"axis":{"values":[0,0.4,0.8],"format":".1f","labelAngle":-90,"labelAlign":"right","labelBaseline":"middle","title":"C₅ [10⁻³]","titleY":66,"titleBaseline":"middle"}},"y":{"field":"lo","type":"quantitative","scale":{"domain":[2.5,6],"nice":false,"zero":false},"axis":{"values":[3,4.5,6],"labels":false,"title":null}},"y2":{"field":"hi"},"color":{"field":"l","type":"nominal","scale":{"domain":[1,2,3],"range":["#d3d3d3","#8c8c8c","#383838"]},"legend":null}}},{"mark":{"type":"point","opacity":0},"encoding":{"x":{"field":"x","type":"quantitative","axis":{"orient":"top","values":[0,0.4,0.8],"labels":false,"title":null}},"y":{"field":"lo","type":"quantitative","axis":{"orient":"right","values":[3,4.5,6],"labels":false,"title":null}}}}],"resolve":{"axis":{"x":"independent","y":"independent"}}},
{"width":73,"height":72,"transform":[{"filter":"datum.p==='k3'"}],"layer":[{"mark":{"type":"line","clip":true,"color":"black","strokeWidth":2},"encoding":{"x":{"field":"x","type":"quantitative","scale":{"domain":[2.5,6],"nice":false,"zero":false},"axis":{"values":[3,4.5,6],"format":".1f","labelAngle":-90,"labelAlign":"right","labelBaseline":"middle","title":"C₆","titleFontStyle":"italic","titleY":57,"titleBaseline":"middle"}},"y":{"field":"y","type":"quantitative","scale":{"domain":[0,1],"nice":false},"axis":{"values":[0,0.4,0.8],"labels":false,"title":null}}}},{"mark":{"type":"point","opacity":0},"encoding":{"x":{"field":"x","type":"quantitative","axis":{"orient":"top","values":[3,4.5,6],"labels":false,"title":null}},"y":{"field":"y","type":"quantitative","axis":{"orient":"right","values":[0,0.4,0.8],"labels":false,"title":null}}}}],"resolve":{"axis":{"x":"independent","y":"independent"}}}
],
"config":{
"view":{"stroke":"black","strokeWidth":1},
"font":"DejaVu Sans",
"axis":{"grid":false,"domainColor":"black","domainWidth":1,"tickColor":"black","tickWidth":1,"tickSize":-5,"labelFont":"DejaVu Sans","labelFontSize":11,"labelColor":"black","labelPadding":8,"labelFlush":false,"labelOverlap":false,"titleFont":"DejaVu Sans","titleFontSize":10.5,"titleFontWeight":"normal","titleColor":"black"}
}
}
